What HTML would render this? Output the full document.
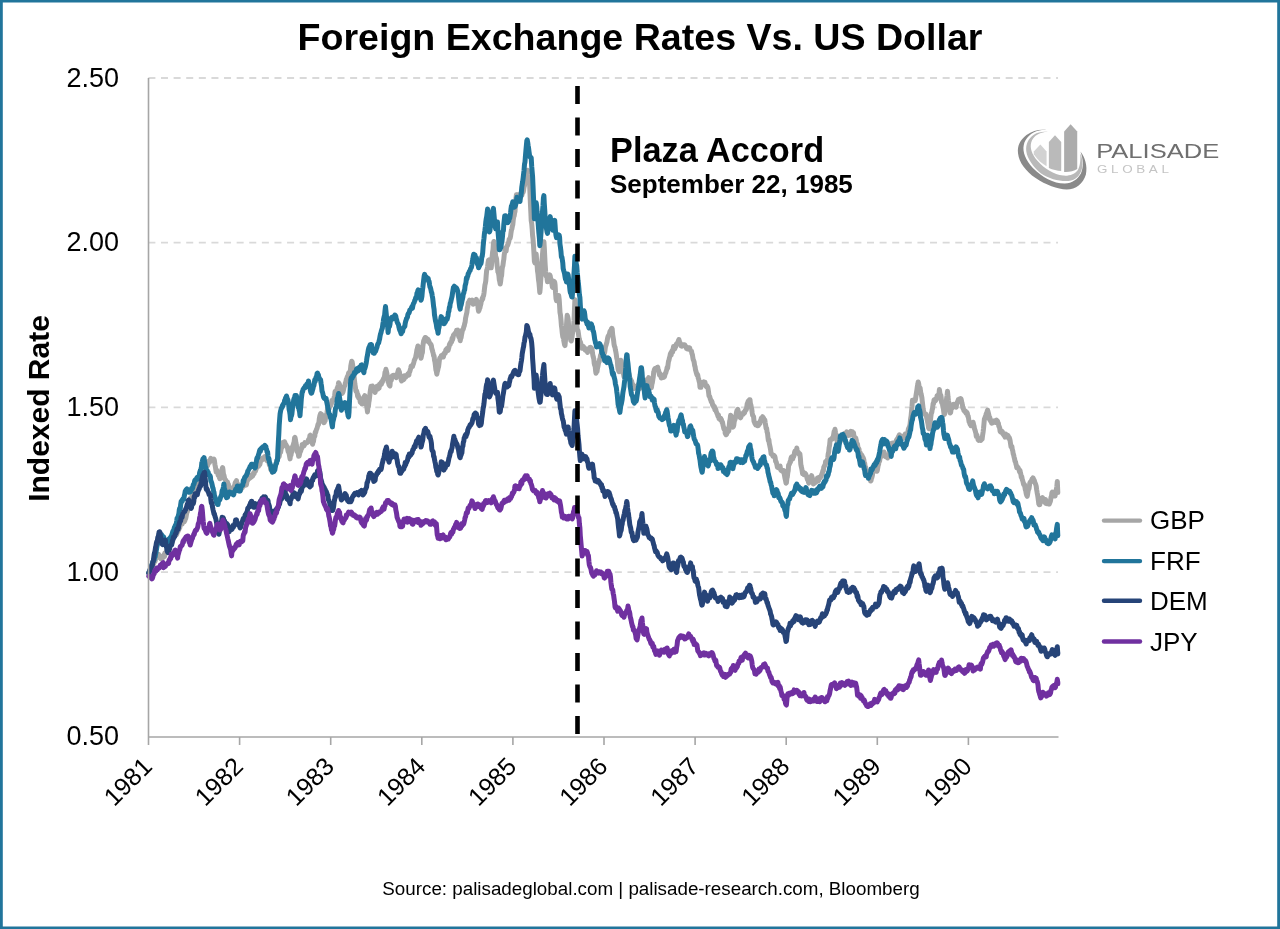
<!DOCTYPE html>
<html lang="en">
<head>
<meta charset="utf-8">
<title>Foreign Exchange Rates Vs. US Dollar</title>
<style>
  html, body { margin: 0; padding: 0; background: #ffffff; }
  body { width: 1280px; height: 929px; overflow: hidden; }
  svg { display: block; will-change: transform; }
  text { font-family: "Liberation Sans", sans-serif; fill: #000; }
  .title { font-size: 37.6px; font-weight: bold; }
  .ylab { font-size: 27px; text-anchor: end; }
  .xlab { font-size: 25px; text-anchor: end; }
  .axt { font-size: 30px; font-weight: bold; text-anchor: middle; }
  .leg { font-size: 26px; }
  .ann1 { font-size: 34.3px; font-weight: bold; }
  .ann2 { font-size: 26px; font-weight: bold; }
  .src { font-size: 18.8px; text-anchor: middle; }
  .grid line { stroke: #d9d9d9; stroke-width: 1.8; stroke-dasharray: 7 5.607; }
  .axis { stroke: #a6a6a6; stroke-width: 1.6; fill: none; }
  .ser { fill: none; stroke-width: 5; stroke-linejoin: round; stroke-linecap: round; }
</style>
</head>
<body>
<svg width="1280" height="929" viewBox="0 0 1280 929">
  <!-- frame -->
  <rect x="0" y="0" width="1280" height="929" fill="#ffffff"/>
  <path fill="#21759b" d="M0 0H1280V929H0ZM2.8 2.4V926.4H1277.2V2.4Z" fill-rule="evenodd"/>

  <!-- title -->
  <text class="title" x="640" y="50" text-anchor="middle">Foreign Exchange Rates Vs. US Dollar</text>

  <!-- gridlines -->
  <g class="grid">
    <line x1="148.4" y1="78" x2="1058" y2="78"/>
    <line x1="148.4" y1="242.7" x2="1058" y2="242.7"/>
    <line x1="148.4" y1="407.4" x2="1058" y2="407.4"/>
    <line x1="148.4" y1="572.1" x2="1058" y2="572.1"/>
  </g>

  <!-- SERIES -->
  <g class="ser">
    <path id="gbp" stroke="#a6a6a6" d="M148.8 573L149.2 572.4L149.7 571.5L150.1 570.8L150.6 569.9L151 569.2L151.4 568.2L151.9 567.7L152.3 567.5L152.8 565.7L153.2 564L153.7 563.8L154.2 561.3L154.6 561.1L155.1 561.3L155.5 559L155.9 557.8L156.4 557.6L156.8 557.7L157.3 555.9L157.8 556.7L158.2 555.7L158.7 554.4L159.1 556.1L159.6 556.3L160 557.2L160.4 557.1L160.9 558.8L161.3 558.7L161.8 557.1L162.2 558.4L162.7 557.8L163.2 556.8L163.6 556.3L164.1 554.5L164.5 556.5L164.9 552.9L165.4 553.7L165.8 553.1L166.3 552.4L166.8 550.1L167.2 551.2L167.7 550.2L168.1 548.9L168.6 548.9L169 549.3L169.4 548L169.9 545.9L170.3 545.6L170.8 544.7L171.2 541.7L171.7 543.4L172.2 541.5L172.6 541.6L173.1 538.9L173.5 536.9L173.9 537.3L174.4 535.3L174.8 534.9L175.3 532.9L175.8 533.1L176.2 533.4L176.7 534.4L177.1 533L177.6 531.2L178 531.5L178.4 530.3L178.9 529.3L179.3 526.9L179.8 527.8L180.2 525.2L180.7 524.4L181.2 522.9L181.6 520.7L182.1 524.1L182.5 520.5L182.9 519.7L183.4 522.2L183.8 521.4L184.3 521.7L184.8 520.7L185.2 519.3L185.7 518.5L186.1 516.7L186.6 513.5L187 512.2L187.4 511.7L187.9 508.8L188.3 505.3L188.8 504.6L189.2 505.2L189.7 502.5L190.2 499.8L190.6 497.7L191.1 497.7L191.5 497.1L191.9 496.6L192.4 496.9L192.8 494L193.3 492.7L193.8 489.8L194.2 488L194.7 487.2L195.1 485.9L195.6 484.9L196 482.9L196.4 482.9L196.9 482.9L197.3 481.7L197.8 482.1L198.2 477.1L198.7 478.1L199.2 476.2L199.6 474.7L200.1 474.3L200.5 473.5L200.9 472.7L201.4 473.1L201.8 472.4L202.3 469.7L202.8 467.3L203.2 466.4L203.7 467L204.1 468.9L204.6 466.5L205 468.2L205.4 467.1L205.9 465.2L206.3 466.2L206.8 466.2L207.2 463.5L207.7 465.5L208.2 461.4L208.6 462L209.1 461L209.5 462.6L209.9 460.3L210.4 459.5L210.8 458.3L211.3 460.6L211.8 459.9L212.2 460.3L212.7 460.6L213.1 460.7L213.6 460.2L214 459.1L214.4 460.5L214.9 464.4L215.4 466.9L215.8 469.7L216.2 472.1L216.7 470L217.2 472.1L217.6 471.4L218.1 475.1L218.5 472.5L218.9 474.8L219.4 477.5L219.9 478.7L220.3 478.7L220.8 476.9L221.2 472.9L221.7 471.4L222.1 469L222.6 467.5L223 469.8L223.4 473.8L223.9 475.1L224.4 477.4L224.8 479.3L225.2 479.5L225.7 479.8L226.2 481.6L226.6 481.7L227.1 484.1L227.5 482L227.9 484.7L228.4 484.4L228.9 487.8L229.3 488.6L229.8 490L230.2 491.1L230.7 490.8L231.1 491.8L231.6 491.2L232 489.7L232.4 490.4L232.9 488.6L233.4 487.2L233.8 486.6L234.2 485.9L234.7 485.4L235.2 482.6L235.6 482.7L236.1 481.7L236.5 480.5L236.9 483.8L237.4 483.5L237.9 484.3L238.3 486.5L238.8 486.8L239.2 487.6L239.7 489.8L240.1 488.8L240.6 489.5L241 489.5L241.4 487.1L241.9 487.9L242.4 487.8L242.8 486.1L243.2 484L243.7 485.9L244.2 485.3L244.6 485.5L245.1 485.3L245.5 484L245.9 484L246.4 484.8L246.9 482L247.3 479.4L247.8 480.1L248.2 477.7L248.7 479.1L249.1 477.2L249.6 477.3L250 477.9L250.4 477.7L250.9 475L251.4 477.1L251.8 475L252.2 475.6L252.7 476L253.2 474L253.6 472.8L254.1 473.8L254.5 471.8L254.9 471.3L255.4 471.1L255.9 469.7L256.3 468.5L256.8 467.4L257.2 466.8L257.6 466.2L258.1 466L258.6 466.1L259 464.5L259.4 463.9L259.9 464.4L260.4 461.8L260.8 460.3L261.2 459.7L261.7 459.3L262.1 459.9L262.6 458.1L263.1 459.2L263.5 457.9L263.9 458.9L264.4 458.7L264.9 456.6L265.3 457L265.8 456.7L266.2 458.3L266.6 459.8L267.1 460.7L267.6 460.1L268 460.4L268.4 461.8L268.9 462L269.4 465.1L269.8 464.7L270.2 466L270.7 469.4L271.1 469.8L271.6 469.9L272.1 472L272.5 471.1L272.9 467.1L273.4 467.4L273.9 469L274.3 467.8L274.8 466.2L275.2 466.2L275.6 465.1L276.1 463.9L276.6 461.4L277 460.2L277.5 459.8L277.9 458.1L278.4 457.6L278.8 456L279.2 456.5L279.7 453.2L280.1 452.4L280.6 452.2L281.1 449.4L281.5 447.5L282 447.2L282.4 446.3L282.9 442.6L283.3 444.4L283.8 444.8L284.2 444.9L284.6 441.8L285.1 443.2L285.6 444L286 444.9L286.5 445.8L286.9 447.1L287.4 446.9L287.8 449.7L288.2 451.8L288.7 452.2L289.1 453.6L289.6 456.4L290.1 458.9L290.5 454.4L291 455.2L291.4 452.3L291.9 451.9L292.3 447.2L292.8 446.2L293.2 445.1L293.6 443.6L294.1 442.1L294.6 437.9L295 437.4L295.5 440L295.9 442.9L296.4 445.1L296.8 448.3L297.2 451.8L297.7 450.8L298.1 452.7L298.6 456.2L299.1 456.1L299.5 454.5L300 452.1L300.4 451.7L300.9 450.4L301.3 447.9L301.8 448.2L302.2 444.6L302.6 444.4L303.1 445.3L303.6 444.3L304 445.8L304.5 444.5L304.9 442.6L305.4 443.7L305.8 443.1L306.2 442.9L306.7 442.7L307.1 442.8L307.6 441.7L308.1 440.9L308.5 439.7L309 439.1L309.4 439.5L309.9 435.6L310.3 435.2L310.8 437.5L311.2 439.6L311.6 442.1L312.1 442.7L312.6 444.3L313 442.2L313.5 441.4L313.9 437.9L314.4 436.7L314.8 436.3L315.2 432.3L315.7 432.4L316.1 430.6L316.6 429.2L317.1 428.1L317.5 426.5L318 424.4L318.4 424.8L318.9 422.6L319.3 418.8L319.8 416.1L320.2 414.8L320.6 413.7L321.1 415.5L321.6 414.3L322 416.8L322.5 417.5L322.9 418.9L323.4 421.5L323.8 422.7L324.2 422.4L324.7 420.8L325.1 421L325.6 417.4L326.1 416.7L326.5 414.2L327 412.7L327.4 409.9L327.9 407.9L328.3 409.3L328.8 408.1L329.2 408.4L329.6 406.9L330.1 405.6L330.6 405.8L331 404.6L331.5 403.1L331.9 400.4L332.4 401.2L332.8 400.7L333.2 399.8L333.7 398.7L334.1 397.6L334.6 395.9L335.1 391.4L335.5 393.9L336 393.1L336.4 390.2L336.9 389.7L337.3 387.8L337.8 387.2L338.2 385.1L338.6 382.7L339.1 383.8L339.6 384.7L340 386.5L340.5 387.7L340.9 389.6L341.4 391.9L341.8 392.2L342.2 393.3L342.7 392.5L343.1 391.5L343.6 389.4L344.1 386.7L344.5 386.2L345 385.1L345.4 382.8L345.9 381.8L346.3 379.2L346.8 379.2L347.2 376.9L347.6 376.2L348.1 375.5L348.6 373L349 374.5L349.5 373.7L349.9 371.4L350.4 370.3L350.8 366L351.2 363.7L351.7 361.2L352.1 361.7L352.6 364.7L353.1 368.8L353.5 373.9L354 375.8L354.4 379.5L354.9 384.2L355.3 386.4L355.8 390.6L356.2 391.6L356.6 390.8L357.1 392.7L357.6 396.2L358 394.7L358.5 397.8L358.9 396.8L359.4 398.6L359.8 398.5L360.2 401.9L360.7 401.7L361.1 403L361.6 400.9L362.1 404L362.5 402.6L363 402.4L363.4 400.3L363.9 398L364.3 396.5L364.8 395.6L365.2 397L365.6 398L366.1 400.5L366.6 405.7L367 408.1L367.5 411.9L367.9 407L368.4 406.7L368.8 402.4L369.2 400.4L369.7 396.1L370.1 392.4L370.6 389L371.1 386.2L371.5 386.4L372 387.6L372.4 386L372.9 387.6L373.3 388.8L373.8 388.2L374.2 390.3L374.6 390.9L375.1 392.4L375.6 388.5L376 387.8L376.5 387.5L376.9 386.4L377.4 387.6L377.8 389.1L378.2 387.4L378.7 385.6L379.1 388.1L379.6 384.3L380.1 385.3L380.5 384.3L381 382.6L381.4 384.2L381.9 381.6L382.3 382.3L382.8 380.6L383.2 379.4L383.6 378.4L384.1 378.1L384.6 375.7L385 372.3L385.5 371.7L385.9 369.3L386.4 371.2L386.8 373L387.2 375.5L387.7 376.8L388.1 381.7L388.6 382.9L389.1 384.8L389.5 385.4L390 385.9L390.4 380.4L390.9 379.5L391.3 380.3L391.8 376.9L392.2 375.9L392.6 376.2L393.1 375.5L393.6 375.2L394 375.4L394.5 376.2L394.9 375.2L395.4 375.2L395.8 376.9L396.2 377.7L396.7 375.7L397.1 375.3L397.6 373L398.1 371.2L398.5 369.7L399 371.7L399.4 371.8L399.9 375.1L400.3 376.1L400.8 376L401.2 380L401.6 380.9L402.1 379L402.6 379.7L403 380L403.5 379.8L403.9 379.3L404.4 375.8L404.8 377.2L405.2 377.5L405.7 377.3L406.2 376.2L406.6 375.3L407.1 375.1L407.5 375L407.9 373.9L408.4 374.6L408.9 375L409.3 372.2L409.8 371.7L410.2 370.2L410.7 368.3L411.1 366.1L411.6 365.9L412 366L412.4 366.7L412.9 365L413.4 363.9L413.8 362.4L414.2 360.7L414.7 359.7L415.2 358.4L415.6 357.5L416.1 354.7L416.5 352.9L416.9 349.9L417.4 348.3L417.9 346L418.3 346.5L418.8 348.3L419.2 350.2L419.7 353.1L420.1 353.3L420.6 356L421 358.3L421.4 356.5L421.9 353.9L422.4 352.6L422.8 346.7L423.2 343.6L423.7 340.6L424.2 341.3L424.6 338.5L425.1 337.6L425.5 337.6L425.9 337.8L426.4 341.1L426.9 339L427.3 340.3L427.8 339L428.2 340.7L428.7 340.6L429.1 342.4L429.6 342.8L430 343.4L430.4 344.3L430.9 344.3L431.4 345.8L431.8 348.7L432.2 349.6L432.7 351.7L433.2 353.4L433.6 355.7L434.1 355.9L434.5 360L434.9 361.5L435.4 365.3L435.9 370L436.3 371.1L436.8 374.2L437.2 372.1L437.7 370.4L438.1 368.3L438.6 366.8L439 363.4L439.4 359.9L439.9 358L440.4 358.1L440.8 357.7L441.2 355.8L441.7 355.4L442.2 356.5L442.6 355.7L443.1 356.2L443.5 356.8L443.9 353.6L444.4 353.1L444.9 353L445.3 353.1L445.8 350L446.2 351.3L446.7 348.7L447.1 348.4L447.6 349.4L448 350.5L448.4 349.1L448.9 347.3L449.4 344.7L449.8 343.7L450.2 344.5L450.7 342L451.2 341.8L451.6 341.9L452.1 338.2L452.5 339.9L452.9 338.3L453.4 335.2L453.9 334.8L454.3 334.6L454.8 333.4L455.2 333.3L455.7 332.8L456.1 332.6L456.6 330.2L457 332.8L457.4 330.7L457.9 330.2L458.4 334.3L458.8 337L459.2 336.7L459.7 337.3L460.2 340.7L460.6 338.5L461.1 337.7L461.5 335L461.9 333.1L462.4 330L462.9 329.7L463.3 329L463.8 326.7L464.2 326.1L464.7 323.5L465.1 322.2L465.6 318L466 316.2L466.4 314.3L466.9 312.3L467.4 307.8L467.8 306.8L468.2 302.8L468.7 303.8L469.2 301.2L469.6 300.2L470.1 300.7L470.5 300.7L470.9 301.6L471.4 301L471.9 301.5L472.3 300.1L472.8 300.5L473.2 304.2L473.7 302.8L474.1 303.1L474.6 301.8L475 302.3L475.4 300.8L475.9 301.8L476.4 299.4L476.8 301.9L477.2 304.3L477.7 304.5L478.2 309L478.6 311.2L479.1 310.2L479.5 308.5L479.9 308L480.4 305.5L480.9 303.8L481.3 301L481.8 300.5L482.2 298.4L482.7 299L483.1 296.5L483.6 295.7L484 293.1L484.4 289.5L484.9 285.1L485.4 283.1L485.8 280.8L486.2 275.2L486.7 270.1L487.2 269.2L487.6 266.6L488.1 262.4L488.5 260.3L488.9 260L489.4 263.1L489.9 264.7L490.3 266L490.8 267.7L491.2 267.8L491.7 263L492.1 257.1L492.6 251.9L493 249.8L493.4 243.4L493.9 241.5L494.4 244.5L494.8 247.9L495.2 251.9L495.7 256.5L496.2 257.5L496.6 259.1L497.1 265.6L497.5 267.7L497.9 271.9L498.4 272.6L498.9 275.5L499.3 279.8L499.8 281.7L500.2 284L500.7 281.1L501.1 277.3L501.6 275.8L502 270.3L502.4 267.1L502.9 265.7L503.4 261.6L503.8 259.4L504.2 255L504.7 252.1L505.2 248.2L505.6 247.9L506.1 251.1L506.5 247.6L506.9 246.2L507.4 245.6L507.9 244.6L508.3 243.1L508.8 241.6L509.2 239.2L509.7 238.7L510.1 238.2L510.6 236L511 232.8L511.4 230.2L511.9 228.8L512.4 226L512.8 224.8L513.2 220.4L513.7 217L514.2 215.8L514.6 212.9L515 211.6L515.5 203.5L516 198L516.4 194.8L516.9 195.5L517.3 194.8L517.8 194.8L518.2 195.8L518.7 198.3L519.1 199.1L519.5 197.3L520 198.2L520.5 193.7L520.9 195.2L521.4 195.2L521.8 195.5L522.2 193.9L522.7 191.8L523.2 192.1L523.6 190.4L524 187.3L524.5 185.6L525 182.6L525.4 181.4L525.9 178.5L526.3 177L526.8 175.4L527.2 173.6L527.7 170.2L528.1 174.8L528.5 176.5L529 179.3L529.5 181.7L529.9 191.1L530.4 203.3L530.8 211.5L531.2 220.5L531.7 223.6L532.2 229.3L532.6 235.6L533 238.6L533.5 245.3L534 254.2L534.4 261.4L534.9 262.8L535.3 260.4L535.8 257.2L536.2 254L536.7 261.4L537.1 264.8L537.5 270.9L538 274.2L538.5 279.8L538.9 282.3L539.4 287.8L539.8 292.5L540.2 288.5L540.7 280.6L541.2 274.2L541.6 267.2L542 259.7L542.5 254.2L543 248.8L543.4 243.9L543.9 241.7L544.3 247.5L544.8 257.7L545.2 265.2L545.7 271.9L546.1 275.9L546.5 275.1L547 278.4L547.5 281.8L547.9 279.1L548.4 277.8L548.8 277.9L549.2 275.5L549.7 274.9L550.2 275.9L550.6 278.5L551 279.1L551.5 280.7L552 284.6L552.4 287.2L552.9 287.5L553.3 284.6L553.8 283L554.2 281.4L554.7 282.2L555.1 284.9L555.5 292.2L556 298.6L556.5 300.6L556.9 299.5L557.4 298.8L557.8 298.2L558.2 296.5L558.7 295.5L559.2 299.5L559.6 305.7L560 312.5L560.5 315.2L561 320.3L561.4 325.5L561.9 329.2L562.3 333.2L562.8 336.8L563.2 335.7L563.7 340.2L564.1 342.4L564.5 344.6L565 345.6L565.5 340.1L565.9 334.2L566.4 326.8L566.8 320.4L567.2 315.3L567.7 316.6L568.2 319.5L568.6 325.8L569 330.9L569.5 335.8L570 336.6L570.4 338.4L570.9 340.6L571.3 340.9L571.8 338.3L572.2 335.6L572.7 331.8L573.1 328.4L573.5 326.6L574 320.7L574.5 309.2L574.9 299.7L575.4 303.3L575.8 310.7L576.2 316.8L576.7 323.5L577.2 329.1L577.6 330.6L578 330.6L578.5 334.2L579 337.9L579.4 338.9L579.9 342.9L580.3 341.6L580.8 343.4L581.2 344.9L581.7 346.8L582.1 348.2L582.5 346.4L583 346.8L583.5 346.6L583.9 348.5L584.4 347.8L584.8 349.3L585.2 350.1L585.7 349.9L586.2 349L586.6 349.7L587 351.2L587.5 352.4L588 350L588.4 351L588.9 348.7L589.3 349.1L589.8 347.5L590.2 349.1L590.7 347.3L591.1 348.2L591.5 348.2L592 349.1L592.5 353.2L592.9 355.6L593.4 357.6L593.8 358.9L594.2 363.4L594.7 365.4L595.2 366.3L595.6 370.9L596 373.2L596.5 371.1L597 371.6L597.4 368.7L597.9 366.5L598.3 364.2L598.8 362.1L599.2 361.4L599.7 359L600.1 358.6L600.5 355.4L601 354.2L601.5 352.9L601.9 350.1L602.4 351.4L602.8 351L603.2 351.4L603.7 349.4L604.2 350.7L604.6 352.8L605 350.2L605.5 346.5L606 345.3L606.4 343.8L606.9 342.3L607.3 339.8L607.8 337.2L608.2 336L608.7 335.5L609.1 334.8L609.5 333.6L610 331.2L610.5 331.9L610.9 331.2L611.4 328.8L611.8 328.3L612.2 329L612.7 334.9L613.2 337.9L613.6 340.3L614 344.1L614.5 346.4L615 347.3L615.4 350L615.9 352.1L616.3 354.6L616.8 358.5L617.2 359.6L617.7 366.1L618.1 369.3L618.5 370.3L619 371.7L619.5 369.4L619.9 364.8L620.4 362.3L620.8 360.2L621.2 361.2L621.7 364.5L622.2 365.8L622.6 369.7L623 373.1L623.5 373.8L624 376.8L624.4 376L624.9 373L625.3 372.1L625.8 372.4L626.2 370.4L626.7 369.3L627.1 369.7L627.5 369.4L628 371.3L628.5 374.7L628.9 373.4L629.4 375.7L629.8 377.7L630.2 378.4L630.7 379.4L631.2 381.7L631.6 381L632 383L632.5 383.9L633 384.6L633.4 386.7L633.9 388.6L634.3 387.9L634.8 387.7L635.2 387.9L635.7 386.5L636.1 387.7L636.5 387.6L637 387L637.5 385.7L637.9 385.3L638.4 384.2L638.8 385L639.2 385.5L639.7 387.6L640.2 388.3L640.6 385.2L641 386.5L641.5 386.3L642 386L642.4 386.3L642.9 386.4L643.3 385.7L643.8 383.8L644.2 382.4L644.7 381.8L645.1 382.9L645.5 381.8L646 382L646.5 379.7L646.9 380.4L647.4 380.3L647.8 381.1L648.2 378.7L648.7 377.7L649.2 379.5L649.6 381L650 383.9L650.5 383.2L651 384.7L651.4 387.7L651.9 384.1L652.3 383L652.8 379.6L653.2 377.4L653.7 371.9L654.1 370.8L654.5 369.4L655 368.6L655.5 369.5L655.9 368.6L656.4 368.2L656.8 368.1L657.2 367.4L657.7 367.2L658.2 370.1L658.6 370.5L659 372.6L659.5 375.1L660 373.7L660.4 375L660.9 376.2L661.3 378L661.8 376.7L662.2 376.9L662.6 375.3L663.1 375.2L663.6 377.4L664 376.7L664.5 376.6L664.9 374.9L665.4 373.1L665.8 373L666.2 371.1L666.7 369.8L667.1 367.4L667.6 368.3L668.1 364.3L668.5 361.2L669 360.1L669.4 358.1L669.9 356.5L670.3 354.1L670.8 352.8L671.2 354.9L671.6 351.6L672.1 350.7L672.6 352.1L673 349.5L673.5 346.6L673.9 347.8L674.4 348.3L674.8 348.7L675.2 347L675.7 346.8L676.1 344.7L676.6 343.8L677.1 344.3L677.5 343.6L678 342.6L678.4 340.6L678.9 339.6L679.3 340.9L679.8 343.2L680.2 343.1L680.6 343.8L681.1 345.9L681.6 346.2L682 346.2L682.5 345.7L682.9 345.3L683.4 344.8L683.8 345.1L684.2 344.7L684.7 344.7L685.1 345.8L685.6 346.4L686.1 346.6L686.5 348.5L687 347.4L687.4 349L687.9 347.8L688.3 348.2L688.8 347.8L689.2 349.1L689.6 347.9L690.1 349.4L690.6 350.3L691 350.9L691.5 351.1L691.9 353.5L692.4 354.7L692.8 357.3L693.2 359.7L693.7 360.7L694.1 361.9L694.6 365.4L695.1 366.9L695.5 369.8L696 371.5L696.4 373L696.9 374.7L697.3 374.2L697.8 375.5L698.2 378L698.6 378.9L699.1 381.2L699.6 382.9L700 387.3L700.5 387.2L700.9 387.3L701.4 384.2L701.8 383.2L702.2 382.6L702.7 383.4L703.1 382.3L703.6 381.9L704.1 383.1L704.5 382.3L705 382.2L705.4 385L705.9 385.9L706.3 386.5L706.8 385.6L707.2 386.8L707.6 386.8L708.1 388.8L708.6 392.5L709 396L709.5 396.3L709.9 397.3L710.4 399.3L710.8 399.8L711.2 401.6L711.7 401.1L712.1 402.1L712.6 405.1L713.1 404.9L713.5 406.7L714 407.3L714.4 406.5L714.9 409.9L715.3 409.8L715.8 409.5L716.2 411.5L716.6 412.4L717.1 413.7L717.6 414.8L718 416.2L718.5 415.1L718.9 418.4L719.4 418.3L719.8 418.9L720.2 419.5L720.7 418.3L721.1 419.2L721.6 420.2L722.1 422.5L722.5 422.1L723 425.2L723.4 426.7L723.9 429L724.3 429L724.8 428.6L725.2 433.2L725.6 434L726.1 434.7L726.6 434.2L727 432.8L727.5 432.3L727.9 430.7L728.4 430L728.8 431.1L729.2 426L729.7 421.1L730.1 419.5L730.6 415.2L731.1 416.2L731.5 418.3L732 422.9L732.4 425.4L732.9 427.1L733.3 426.7L733.8 425.2L734.2 421.8L734.6 420.2L735.1 419.1L735.6 417.2L736 415.2L736.5 412.4L736.9 410.7L737.4 410.3L737.8 409.3L738.2 411.3L738.7 412.9L739.1 415L739.6 415.4L740.1 417.5L740.5 417.8L741 417L741.4 414.1L741.9 414.2L742.3 413.8L742.8 413.9L743.2 414.2L743.6 412.4L744.1 412.2L744.6 412.8L745 410.7L745.5 410.7L745.9 409.3L746.4 409.4L746.8 406.5L747.2 403.8L747.7 402.9L748.1 401.2L748.6 401.4L749.1 400.3L749.5 399.8L750 399.7L750.4 403.6L750.9 405L751.3 407.1L751.8 409.5L752.2 412.9L752.6 415.2L753.1 415.9L753.6 416.8L754 421.3L754.5 422.2L754.9 423.6L755.4 422.8L755.8 425L756.2 424.5L756.7 424L757.1 424.8L757.6 425.7L758.1 424.7L758.5 425.3L759 422.9L759.4 423L759.9 423.5L760.3 420.9L760.8 420.7L761.2 418.4L761.6 418.5L762.1 417.8L762.6 416.7L763 417.9L763.5 418L763.9 419L764.4 421.3L764.8 419.8L765.2 422.6L765.7 425.6L766.1 428.5L766.6 428.2L767.1 432.1L767.5 433.1L768 437.6L768.4 440.8L768.9 439.7L769.3 443.4L769.8 445.8L770.2 447.6L770.6 449.8L771.1 453.9L771.6 454.2L772 454.7L772.5 454.5L772.9 456L773.4 455.6L773.8 455.3L774.2 456.9L774.7 456.2L775.1 457.5L775.6 461.3L776.1 461.5L776.5 463.1L777 465.3L777.4 467.2L777.9 467.6L778.3 467L778.8 468L779.2 466.7L779.6 466.2L780.1 466.1L780.6 469.3L781 470.5L781.5 470.6L781.9 470.3L782.4 471.3L782.8 470.7L783.2 471.6L783.7 470.5L784.1 473.2L784.6 476L785.1 478.7L785.5 480.3L786 483.2L786.4 482.7L786.9 478.2L787.3 476.9L787.8 472.7L788.2 470.8L788.6 465.1L789.1 464.8L789.6 463.7L790 461.9L790.5 462L790.9 458.5L791.4 457.1L791.8 458.4L792.2 456.8L792.7 459.1L793.1 456.5L793.6 456.7L794.1 455.3L794.5 452.6L795 451L795.4 452L795.9 452.8L796.3 452L796.8 448.1L797.2 450.3L797.6 451.9L798.1 452.6L798.6 452.6L799 454.3L799.5 454.3L799.9 454L800.4 458.5L800.8 464.2L801.2 466.4L801.7 468.3L802.1 470.6L802.6 473.8L803.1 472L803.5 472.5L804 474.6L804.4 474.4L804.9 473L805.3 473.9L805.8 474.2L806.2 475.6L806.6 476.1L807.1 478.5L807.6 479.9L808 479.7L808.5 482.4L808.9 483L809.4 481L809.8 480.7L810.2 480.5L810.7 478.9L811.1 476.7L811.6 475.7L812.1 477.3L812.5 478.5L813 481L813.4 483.9L813.9 483.6L814.3 483.3L814.8 482.1L815.2 482.3L815.6 482.5L816.1 481.1L816.6 481.5L817 481.1L817.5 477.9L817.9 479.7L818.4 481L818.8 479.2L819.2 477.2L819.7 477.4L820.1 478L820.6 477L821.1 476.8L821.5 475L822 473.8L822.4 472.8L822.9 470.6L823.3 471.2L823.8 467.1L824.2 466.5L824.6 465.5L825.1 465L825.6 461.6L826 461.3L826.5 461.6L826.9 462.1L827.4 459.9L827.8 457.6L828.2 453.8L828.7 452L829.1 447.8L829.6 445.2L830.1 439.7L830.5 439.5L831 439.5L831.4 439.4L831.9 439.3L832.3 437.9L832.8 438.8L833.2 437.6L833.6 435L834.1 431.5L834.6 430.9L835 429.3L835.5 432.4L835.9 434.4L836.4 434.8L836.8 437.6L837.2 441.6L837.7 442.3L838.1 442.5L838.6 440.6L839.1 441L839.5 442.5L840 440.6L840.4 438.7L840.9 436.8L841.3 437.3L841.8 439L842.2 437.5L842.6 439.9L843.1 437.7L843.6 436.8L844 436.3L844.5 435L844.9 433.3L845.4 433.5L845.8 433.2L846.2 432.6L846.7 431.9L847.1 433.6L847.6 433.1L848.1 435.5L848.5 433.4L849 435.1L849.4 434.7L849.9 435.1L850.3 432.7L850.8 431.4L851.2 432.4L851.6 432.2L852.1 432.1L852.6 431.9L853 432.8L853.5 432.7L853.9 435.8L854.4 437.2L854.8 438.2L855.2 439.4L855.7 437.9L856.1 439.6L856.6 442.1L857.1 444.2L857.5 444L858 448.3L858.4 448.7L858.9 448.7L859.3 451L859.8 453.2L860.2 452.7L860.6 455.2L861.1 455L861.6 454.8L862 455.7L862.5 456.6L862.9 457.3L863.4 458.4L863.8 459.5L864.2 462.7L864.7 463.2L865.1 466.8L865.6 467L866.1 469.9L866.5 470.3L867 471.2L867.4 473.9L867.9 476.3L868.3 476.4L868.8 475.9L869.2 476L869.6 477.3L870.1 478.3L870.6 481L871 480.8L871.5 478.1L871.9 477.5L872.4 475.5L872.8 471.9L873.2 470.5L873.7 470.9L874.1 470.6L874.6 469.7L875.1 468.6L875.5 469.3L876 469L876.4 469.3L876.9 471.3L877.3 470.5L877.8 467.5L878.2 465.3L878.6 464.3L879.1 461.3L879.6 461.3L880 457.9L880.5 457.8L880.9 456.1L881.4 455.5L881.8 456L882.2 453.5L882.7 454L883.1 453.5L883.6 454.8L884.1 452L884.5 454.5L885 454.4L885.4 456.6L885.9 455.8L886.3 456L886.8 456.2L887.2 456.7L887.6 458L888.1 456.4L888.6 456.3L889 455.2L889.5 453.1L889.9 450.3L890.4 448.1L890.8 446.5L891.2 445.2L891.7 443.2L892.1 444.7L892.6 443.4L893.1 444.7L893.5 443.8L894 445.2L894.4 442.8L894.9 443.8L895.3 442.7L895.8 442.7L896.2 441.2L896.6 439.8L897.1 439.8L897.6 438.3L898 438.5L898.5 436.5L898.9 436L899.4 434.8L899.8 435.5L900.2 436.5L900.7 439L901.1 438.3L901.6 436.1L902.1 438.4L902.5 438.6L903 437.5L903.4 438L903.9 436.1L904.3 435.6L904.8 435L905.2 434.2L905.6 435.2L906.1 435.8L906.6 435.8L907 434.4L907.5 433.2L907.9 431.9L908.4 428.8L908.8 428.5L909.2 427.1L909.7 426.1L910.1 424L910.6 418.9L911.1 416L911.5 411.4L912 406.5L912.4 400.3L912.9 401.4L913.3 400.8L913.8 400.3L914.2 399.8L914.6 400L915.1 400.7L915.6 399L916 395.4L916.5 392.3L916.9 389.8L917.4 386.2L917.8 384.4L918.2 382L918.7 383.7L919.1 386.9L919.6 387.5L920.1 387.9L920.5 391.3L921 393.8L921.4 395.2L921.9 397.8L922.3 401.6L922.8 405.9L923.2 409.2L923.6 411.2L924.1 412.9L924.6 413.9L925 414.5L925.5 414.9L925.9 414.2L926.4 415.9L926.8 418.2L927.2 420.1L927.7 422.5L928.1 424.3L928.6 427.8L929.1 428.7L929.5 427.7L930 423.7L930.4 420.6L930.9 416.2L931.3 413.2L931.8 412.3L932.2 409.4L932.6 408.5L933.1 403.4L933.6 403.6L934 400.1L934.5 399.6L934.9 401.1L935.4 400.8L935.8 399L936.2 399.9L936.7 398.6L937.1 395.7L937.6 396L938.1 394.9L938.5 394.9L939 393.8L939.4 389.5L939.9 393.4L940.3 395.2L940.8 395.2L941.2 397.8L941.6 402.5L942.1 401.7L942.6 405L943 407.2L943.5 409.6L943.9 413L944.4 414.3L944.8 413.5L945.2 409.2L945.7 405.9L946.1 402.8L946.6 398.5L947.1 395.3L947.5 391.2L948 396.9L948.4 400.3L948.9 403.4L949.3 408.7L949.8 409.9L950.2 413L950.6 412.6L951.1 409.3L951.6 407.5L952 408.2L952.5 406.3L952.9 404.7L953.4 404.3L953.8 404.6L954.2 405.7L954.7 405.8L955.1 406.2L955.6 405L956.1 407.3L956.5 405L957 402.6L957.4 402L957.9 401.2L958.3 399.5L958.8 399.5L959.2 399.1L959.6 400.8L960.1 398.9L960.6 399.6L961 398.7L961.5 400.9L961.9 403L962.4 404.9L962.8 408L963.2 407.3L963.7 410.2L964.1 410.5L964.6 411.3L965.1 410.9L965.5 411.1L966 413.2L966.4 413.1L966.9 412.5L967.3 413.2L967.8 416.3L968.2 416.1L968.6 418.6L969.1 421.9L969.6 422.3L970 424.2L970.5 424L970.9 425.7L971.4 423.5L971.8 424.4L972.2 424.8L972.7 423.7L973.1 422.2L973.6 424.7L974.1 426.3L974.5 428.9L975 430L975.4 431.5L975.9 433.3L976.3 436.3L976.8 434.9L977.2 436.6L977.6 437.4L978.1 439.8L978.6 440.3L979 439.4L979.5 438.5L979.9 439.4L980.4 439.4L980.8 440.4L981.2 439.6L981.7 439L982.1 439.2L982.6 435.3L983.1 432.1L983.5 428.8L984 423.5L984.4 418.9L984.9 418.6L985.3 416.5L985.8 416.4L986.2 413.7L986.6 415.7L987.1 411.6L987.6 410.2L988 411.5L988.5 413.5L988.9 415.3L989.4 419.2L989.8 417.4L990.2 420.3L990.7 421.2L991.1 420.2L991.6 423.2L992.1 423L992.5 422.9L993 422.8L993.4 421L993.9 421.8L994.3 421.8L994.8 422.3L995.2 422.4L995.6 420.5L996.1 421.6L996.6 420.1L997 421.7L997.5 421L997.9 422.7L998.4 423.3L998.8 426.1L999.2 426.6L999.7 428.1L1000.1 431.2L1000.6 432.1L1001.1 432.2L1001.5 430.8L1002 432.4L1002.4 431.7L1002.9 433.9L1003.3 434.2L1003.8 435.3L1004.2 434.5L1004.6 434.8L1005.1 437.1L1005.6 434L1006 435.4L1006.5 435.1L1006.9 435.3L1007.4 435.3L1007.8 435.3L1008.2 436.3L1008.7 438.3L1009.1 437.4L1009.6 438.5L1010.1 440.6L1010.5 443.3L1011 446.6L1011.4 447.1L1011.9 446.5L1012.3 449.5L1012.8 451.1L1013.2 453.8L1013.6 454.8L1014.1 457.1L1014.6 459L1015 461.3L1015.5 461.7L1015.9 463.9L1016.4 465.5L1016.8 467.8L1017.2 466.6L1017.7 467.6L1018.1 467.5L1018.6 468.9L1019.1 469.7L1019.5 471.9L1020 470.4L1020.4 472.7L1020.9 474.7L1021.3 477.3L1021.8 476.8L1022.2 479.2L1022.6 480.4L1023.1 482.1L1023.6 484.4L1024 484L1024.5 484.6L1024.9 487.2L1025.3 489.5L1025.8 491.1L1026.2 493.6L1026.7 495.4L1027.2 496.3L1027.6 494.2L1028.1 491L1028.5 489.4L1029 488.7L1029.4 486L1029.8 483.2L1030.3 481.9L1030.8 482L1031.2 480.9L1031.7 480.5L1032.1 478.8L1032.6 478.6L1033 477.9L1033.5 479L1033.9 480.2L1034.3 480.3L1034.8 482.4L1035.2 483.2L1035.7 484.4L1036.2 486.1L1036.6 489.4L1037.1 492.4L1037.5 494.4L1038 497.7L1038.4 500.7L1038.8 503.9L1039.3 504.8L1039.8 504.6L1040.2 501.4L1040.7 501.4L1041.1 499.5L1041.6 499.1L1042 498.2L1042.5 497.6L1042.9 498.9L1043.3 500.8L1043.8 500.3L1044.2 501.5L1044.7 502.2L1045.2 502.7L1045.6 499.6L1046.1 503.4L1046.5 503L1047 502.3L1047.4 503.7L1047.8 502L1048.3 502.1L1048.8 501.9L1049.2 504.1L1049.7 503L1050.1 502.1L1050.6 500.3L1051 497.2L1051.5 496.3L1051.9 492.8L1052.3 492.2L1052.8 493.8L1053.2 493.2L1053.7 494.7L1054.2 495.4L1054.6 496.1L1055.1 496L1055.5 492.9L1056 490.4L1056.4 489.2L1056.8 486.8L1057.3 481.4L1057.8 492.3L1057.8 492.5"/>
    <path id="frf" stroke="#21759b" d="M148.8 573L149.2 571.8L149.7 571.1L150.1 569.7L150.6 568.7L151 567.3L151.4 566L151.9 564.4L152.3 564.2L152.8 561.8L153.2 561.7L153.7 559.6L154.2 559.8L154.6 556.2L155.1 556.8L155.5 554.4L155.9 552.7L156.4 549.8L156.8 547.4L157.3 544.8L157.8 543.8L158.2 540.5L158.7 539L159.1 534.1L159.6 533.4L160 533.9L160.4 534.5L160.9 535.3L161.3 535.3L161.8 535L162.2 536.9L162.7 536.8L163.2 537.7L163.6 536.8L164.1 538.9L164.5 540.6L164.9 540.6L165.4 541.9L165.8 541.6L166.3 541.2L166.8 541.7L167.2 544.5L167.7 543.8L168.1 541.5L168.6 539.4L169 540.1L169.4 540.9L169.9 538.1L170.3 537.4L170.8 537.2L171.2 537.5L171.7 535L172.2 533.9L172.6 532.2L173.1 530.8L173.5 532.1L173.9 529.5L174.4 527.4L174.8 528.3L175.3 525.5L175.8 524.8L176.2 524L176.7 521.1L177.1 518L177.6 517.8L178 517.1L178.4 515.3L178.9 513.5L179.3 509.7L179.8 508L180.2 509.3L180.7 504.3L181.2 501.2L181.6 500.9L182.1 501.4L182.5 499.4L182.9 499L183.4 498.4L183.8 499.3L184.3 495.9L184.8 493.9L185.2 491.4L185.7 490.4L186.1 489.7L186.6 489.4L187 488.9L187.4 489.8L187.9 491.7L188.3 492L188.8 492.2L189.2 492.3L189.7 492.3L190.2 490.6L190.6 491.6L191.1 489.8L191.5 488.3L191.9 488.2L192.4 488.7L192.8 487.2L193.3 484.5L193.8 484.4L194.2 483.2L194.7 480.7L195.1 480L195.6 480.4L196 479.4L196.4 478.8L196.9 477.7L197.3 478.5L197.8 478.8L198.2 477.9L198.7 478.9L199.2 475.6L199.6 472.8L200.1 471.2L200.5 470.2L200.9 469L201.4 467.3L201.8 462.9L202.3 461.6L202.8 459.4L203.2 458.4L203.7 458.4L204.1 457.7L204.6 461.8L205 464L205.4 466.9L205.9 467.6L206.3 471.6L206.8 470.2L207.2 470.5L207.7 473.2L208.2 472.2L208.6 474.9L209.1 475L209.5 475.3L209.9 475.5L210.4 476.7L210.8 481.1L211.3 481.7L211.8 483.3L212.2 485.1L212.7 487.6L213.1 488.3L213.6 491.4L214 492.3L214.4 495.5L214.9 496.8L215.4 498.4L215.8 499.7L216.2 501.6L216.7 503.1L217.2 503.9L217.6 504.6L218.1 504.6L218.5 500.9L218.9 500.5L219.4 500.5L219.9 499.5L220.3 498L220.8 496.7L221.2 495.7L221.7 494.4L222.1 490.8L222.6 490.9L223 489.3L223.4 487.1L223.9 483.9L224.4 488.7L224.8 489.6L225.2 491.4L225.7 495.9L226.2 496.7L226.6 497.7L227.1 496L227.5 497.4L227.9 494.5L228.4 494.2L228.9 493.3L229.3 492.2L229.8 494L230.2 492.1L230.7 493.4L231.1 493L231.6 492.8L232 493.4L232.4 493.7L232.9 494.5L233.4 494.9L233.8 494.2L234.2 491.9L234.7 491.7L235.2 490.9L235.6 489.2L236.1 489.9L236.5 488.4L236.9 488.6L237.4 486L237.9 486.3L238.3 488L238.8 491.1L239.2 489.9L239.7 490.3L240.1 491.1L240.6 489.2L241 486.5L241.4 485.5L241.9 485.8L242.4 485.6L242.8 485L243.2 480.5L243.7 482.1L244.2 479.4L244.6 477.6L245.1 476.8L245.5 476.8L245.9 475.9L246.4 475.3L246.9 473.9L247.3 473.3L247.8 470.9L248.2 470.5L248.7 469.6L249.1 468.7L249.6 468.3L250 466.6L250.4 466.7L250.9 465.8L251.4 464.4L251.8 466.2L252.2 464.3L252.7 466.5L253.2 464.6L253.6 464.9L254.1 465.9L254.5 467.3L254.9 468L255.4 467.4L255.9 463.1L256.3 461.9L256.8 458.7L257.2 457.6L257.6 458.2L258.1 456.2L258.6 454.3L259 453.2L259.4 451.3L259.9 449.8L260.4 451.3L260.8 448.9L261.2 449L261.7 447.9L262.1 448.1L262.6 447.9L263.1 446.7L263.5 446.6L263.9 447.6L264.4 446.9L264.9 445.4L265.3 446L265.8 446.4L266.2 448.1L266.6 449.5L267.1 452.3L267.6 452L268 456L268.4 458.9L268.9 458.4L269.4 462.1L269.8 463.2L270.2 464.3L270.7 465.6L271.1 467.2L271.6 470.3L272.1 470.7L272.5 472.1L272.9 471.8L273.4 469.8L273.9 471.6L274.3 469.2L274.8 470.1L275.2 467.6L275.6 465.2L276.1 463.5L276.6 463.2L277 460L277.5 460.4L277.9 450.6L278.4 440.9L278.8 434.3L279.2 425.4L279.7 418.6L280.1 413.8L280.6 411L281.1 409L281.5 407.7L282 407.7L282.4 405.5L282.9 406L283.3 403.9L283.8 403.5L284.2 403.2L284.6 400.3L285.1 400.1L285.6 397.8L286 397.7L286.5 396L286.9 397.5L287.4 399.4L287.8 399.4L288.2 401.5L288.7 404.7L289.1 409.3L289.6 411.4L290.1 415L290.5 419.7L291 416.5L291.4 415.9L291.9 413.8L292.3 410L292.8 404.7L293.2 404.4L293.6 400.4L294.1 398.3L294.6 398.1L295 395.5L295.5 395.6L295.9 395.9L296.4 395.7L296.8 398L297.2 398.7L297.7 404.2L298.1 407.2L298.6 406.8L299.1 409.8L299.5 411.3L300 415.7L300.4 410.1L300.9 405.3L301.3 399L301.8 394.9L302.2 391.7L302.6 391.8L303.1 389.4L303.6 388.8L304 387.9L304.5 388.1L304.9 388.1L305.4 385.7L305.8 386.2L306.2 386.7L306.7 384.3L307.1 383.8L307.6 383.6L308.1 383.3L308.5 380.9L309 383.6L309.4 385.7L309.9 387.3L310.3 389.9L310.8 392.1L311.2 393.2L311.6 393.1L312.1 391.6L312.6 389.9L313 388.5L313.5 385.9L313.9 385.6L314.4 382.4L314.8 379.7L315.2 381.7L315.7 378.7L316.1 377L316.6 376.4L317.1 373.5L317.5 373.1L318 375L318.4 374.8L318.9 377.7L319.3 377.7L319.8 379.2L320.2 379.4L320.6 379.9L321.1 383.7L321.6 386.7L322 391.1L322.5 392.2L322.9 393.9L323.4 396.4L323.8 397.6L324.2 398.3L324.7 398L325.1 398.2L325.6 399.1L326.1 398.3L326.5 401L327 403.2L327.4 405.2L327.9 408.2L328.3 409.4L328.8 412.7L329.2 413.6L329.6 414.2L330.1 416L330.6 418.2L331 418.7L331.5 422L331.9 424.7L332.4 426.9L332.8 422.5L333.2 420.6L333.7 418.6L334.1 416.3L334.6 416L335.1 411.7L335.5 408.3L336 408.1L336.4 406.2L336.9 403.1L337.3 398.5L337.8 397.6L338.2 395.2L338.6 393.5L339.1 394.7L339.6 397.8L340 400.4L340.5 401.7L340.9 408L341.4 410.2L341.8 408.9L342.2 408.1L342.7 407.7L343.1 407.4L343.6 407.8L344.1 405.8L344.5 404.4L345 402.6L345.4 403.9L345.9 405.4L346.3 407.5L346.8 407.8L347.2 411.4L347.6 412.6L348.1 416L348.6 416.8L349 412.2L349.5 401.1L349.9 394L350.4 384.8L350.8 379.5L351.2 377.9L351.7 378.3L352.1 378.3L352.6 375.7L353.1 376.5L353.5 375.3L354 374.8L354.4 372.4L354.9 373.4L355.3 372.9L355.8 372.5L356.2 370.4L356.6 369L357.1 368.5L357.6 368.7L358 371.1L358.5 369.9L358.9 370.4L359.4 367.2L359.8 368.5L360.2 368.2L360.7 366.5L361.1 365.1L361.6 364.8L362.1 368.8L362.5 369.2L363 370.2L363.4 371.4L363.9 372.7L364.3 369L364.8 368.6L365.2 367.2L365.6 365.8L366.1 363.5L366.6 360.4L367 357.4L367.5 355.1L367.9 352.4L368.4 349.5L368.8 347.9L369.2 346.9L369.7 346.2L370.1 344.8L370.6 346L371.1 344.5L371.5 344.6L372 348.5L372.4 350.7L372.9 352L373.3 352.9L373.8 353.2L374.2 353.3L374.6 352.5L375.1 350.7L375.6 351.2L376 349.9L376.5 348.2L376.9 347.5L377.4 345.2L377.8 343.9L378.2 343.5L378.7 342.9L379.1 340.8L379.6 339L380.1 335.9L380.5 334L381 332.8L381.4 330.7L381.9 329.2L382.3 328.4L382.8 324.5L383.2 322.1L383.6 319L384.1 316.8L384.6 315.2L385 310.8L385.5 306.6L385.9 310.5L386.4 315.5L386.8 320.4L387.2 324L387.7 327.3L388.1 332.6L388.6 327.5L389.1 327L389.5 326.5L390 324.2L390.4 320.4L390.9 320.3L391.3 317.9L391.8 317.3L392.2 317.3L392.6 318.9L393.1 318.9L393.6 318.2L394 316.5L394.5 315.8L394.9 315L395.4 315.5L395.8 316.2L396.2 318.8L396.7 320L397.1 321.9L397.6 323.2L398.1 323.7L398.5 324.7L399 327.5L399.4 329.1L399.9 330.5L400.3 331.1L400.8 332.7L401.2 333.7L401.6 332.6L402.1 331.9L402.6 331.6L403 329.1L403.5 327.8L403.9 327.7L404.4 326.7L404.8 326.3L405.2 323.3L405.7 321.2L406.2 319.8L406.6 318.2L407.1 318L407.5 316.9L407.9 314.4L408.4 313.5L408.9 313.1L409.3 312.3L409.8 309.9L410.2 309.7L410.7 309.3L411.1 308.9L411.6 307.3L412 306.5L412.4 308.3L412.9 305.5L413.4 303.7L413.8 303L414.2 302.5L414.7 300.5L415.2 300.1L415.6 297.9L416.1 298.3L416.5 297.7L416.9 293.4L417.4 292.6L417.9 290.5L418.3 289.8L418.8 290.3L419.2 294.2L419.7 293.1L420.1 296.8L420.6 298.2L421 300.3L421.4 299.1L421.9 296.5L422.4 290.7L422.8 288L423.2 284.2L423.7 279.9L424.2 275.9L424.6 274.4L425.1 276.2L425.5 277.1L425.9 276.6L426.4 277.1L426.9 278.6L427.3 279.6L427.8 279.9L428.2 278.5L428.7 281.7L429.1 281.3L429.6 284.9L430 287.1L430.4 287.5L430.9 289.6L431.4 292.3L431.8 292.8L432.2 295.6L432.7 298.2L433.2 302.6L433.6 306.4L434.1 309.5L434.5 315.1L434.9 317.1L435.4 320.5L435.9 322.4L436.3 324.3L436.8 328L437.2 329.1L437.7 330.8L438.1 333.3L438.6 329L439 327.6L439.4 325L439.9 322.9L440.4 321.5L440.8 318.5L441.2 316.6L441.7 317.4L442.2 318L442.6 320.3L443.1 320.1L443.5 321.6L443.9 323.7L444.4 323.6L444.9 322L445.3 322.1L445.8 320.6L446.2 319.1L446.7 318.6L447.1 319.3L447.6 317.4L448 315.9L448.4 312.3L448.9 311.2L449.4 307L449.8 307.2L450.2 303.4L450.7 302.2L451.2 299.9L451.6 298.2L452.1 296.1L452.5 293.2L452.9 290.6L453.4 287.6L453.9 287.1L454.3 286.2L454.8 287.5L455.2 288.6L455.7 287.9L456.1 288.5L456.6 288.2L457 289.3L457.4 290.3L457.9 291.9L458.4 295.7L458.8 299.8L459.2 303.4L459.7 307.2L460.2 309.1L460.6 306.2L461.1 305.1L461.5 303.4L461.9 301.2L462.4 299.1L462.9 297L463.3 293.8L463.8 293.2L464.2 290.8L464.7 289.7L465.1 285.7L465.6 284.1L466 282.3L466.4 278L466.9 279.1L467.4 276.7L467.8 276.1L468.2 273.8L468.7 273.3L469.2 271.8L469.6 270.9L470.1 270.5L470.5 269L470.9 268.1L471.4 267.7L471.9 264.8L472.3 261.8L472.8 259.3L473.2 256.5L473.7 254.3L474.1 255.3L474.6 254.9L475 255L475.4 257.5L475.9 259.1L476.4 257.7L476.8 260.4L477.2 263.3L477.7 264.7L478.2 265.5L478.6 267.8L479.1 266.4L479.5 266.1L479.9 264.4L480.4 261.6L480.9 263.7L481.3 261.7L481.8 256.8L482.2 256.3L482.7 252.6L483.1 246.8L483.6 241.4L484 238.3L484.4 233.8L484.9 230.4L485.4 226.2L485.8 221.9L486.2 219L486.7 216.5L487.2 212.3L487.6 209L488.1 214.2L488.5 219.9L488.9 224.9L489.4 232.1L489.9 230.9L490.3 226.7L490.8 223.3L491.2 219.3L491.7 215.7L492.1 213.1L492.6 211.4L493 209.8L493.4 208.3L493.9 213.5L494.4 219.1L494.8 222.7L495.2 227L495.7 228.8L496.2 227.6L496.6 224.7L497.1 223.9L497.5 222L497.9 230.1L498.4 236.2L498.9 242.6L499.3 249.8L499.8 249.8L500.2 248.5L500.7 247.9L501.1 246.2L501.6 242.3L502 241L502.4 237.3L502.9 231.3L503.4 230.8L503.8 224.6L504.2 220.8L504.7 216L505.2 215.7L505.6 215.8L506.1 217.8L506.5 221.1L506.9 220.4L507.4 220.9L507.9 222.7L508.3 219.4L508.8 221.2L509.2 217.9L509.7 218.2L510.1 215.9L510.6 212.5L511 208.8L511.4 206.1L511.9 205L512.4 203.8L512.8 201.7L513.2 205.2L513.7 206.2L514.2 206.4L514.6 207L515 206.6L515.5 205.4L516 203.3L516.4 200.8L516.9 197.3L517.3 197.5L517.8 197.7L518.2 198.5L518.7 197.9L519.1 201.2L519.5 200.2L520 201.4L520.5 197L520.9 195.7L521.4 191.9L521.8 187L522.2 184.3L522.7 181.5L523.2 177.6L523.6 173.9L524 170.8L524.5 164.3L525 161.9L525.4 156.5L525.9 150.8L526.3 146.1L526.8 140.9L527.2 139.8L527.7 142.4L528.1 145.4L528.5 147.5L529 151.6L529.5 155.2L529.9 156.7L530.4 157.5L530.8 157.3L531.2 157.7L531.7 166.4L532.2 172.1L532.6 176.8L533 185.7L533.5 197.5L534 207.5L534.4 218.8L534.9 217.8L535.3 212.2L535.8 207.2L536.2 202.8L536.7 206.3L537.1 212.1L537.5 216.3L538 221.4L538.5 228L538.9 233.2L539.4 238.2L539.8 245.7L540.2 242.5L540.7 237.1L541.2 230L541.6 224.2L542 219.1L542.5 211.1L543 205.2L543.4 198.1L543.9 195.6L544.3 203.6L544.8 210.8L545.2 218.7L545.7 225.7L546.1 226.1L546.5 228.8L547 231.7L547.5 233.4L547.9 231.1L548.4 227L548.8 224L549.2 220L549.7 218.6L550.2 216.6L550.6 218.7L551 223.7L551.5 224.9L552 226.2L552.4 227.9L552.9 230.1L553.3 225.6L553.8 221.5L554.2 222.1L554.7 220.3L555.1 225.5L555.5 231.3L556 235.5L556.5 237.6L556.9 235.8L557.4 236.7L557.8 237.1L558.2 234.7L558.7 234.9L559.2 235.3L559.6 237.5L560 244.4L560.5 247.7L561 251.9L561.4 257.1L561.9 257L562.3 259.6L562.8 263.2L563.2 268.7L563.7 270.7L564.1 271.8L564.5 273.4L565 276.5L565.5 279.3L565.9 278.7L566.4 282L566.8 280.5L567.2 278.8L567.7 273.9L568.2 275.2L568.6 278.8L569 282.5L569.5 285.6L570 290.6L570.4 292.7L570.9 293L571.3 295.1L571.8 296.9L572.2 297L572.7 290.2L573.1 286.4L573.5 281.9L574 273.5L574.5 265.3L574.9 256.3L575.4 257.9L575.8 258.4L576.2 263.7L576.7 265.8L577.2 272.3L577.6 275.7L578 280.4L578.5 284.1L579 289.9L579.4 294.7L579.9 297.5L580.3 304.9L580.8 312.3L581.2 315L581.7 316.9L582.1 319.1L582.5 314L583 315L583.5 312.1L583.9 310.7L584.4 311.9L584.8 314.7L585.2 318.5L585.7 320.2L586.2 321.5L586.6 321.7L587 324L587.5 321.9L588 324.7L588.4 325.8L588.9 328L589.3 326.8L589.8 327L590.2 325.5L590.7 324.9L591.1 323.9L591.5 324.3L592 326.6L592.5 326.9L592.9 330.7L593.4 331.2L593.8 333.1L594.2 335.7L594.7 339.4L595.2 341.2L595.6 343.4L596 343.6L596.5 347L597 345.1L597.4 344.1L597.9 345.6L598.3 344L598.8 344L599.2 344.7L599.7 343.7L600.1 344.4L600.5 347.5L601 346.1L601.5 349L601.9 352.9L602.4 352.8L602.8 354.7L603.2 356.7L603.7 356.7L604.2 356.4L604.6 360.7L605 361.1L605.5 360.8L606 360.1L606.4 360L606.9 362.6L607.3 360.4L607.8 359.8L608.2 357.9L608.7 358.9L609.1 359L609.5 360.4L610 362.7L610.5 364.3L610.9 365.2L611.4 367.7L611.8 369.3L612.2 372.7L612.7 374.5L613.2 372.8L613.6 374.4L614 376.8L614.5 378.4L615 380.5L615.4 383.9L615.9 385.8L616.3 387.3L616.8 391.8L617.2 394.5L617.7 399.8L618.1 404.4L618.5 405.8L619 407.5L619.5 410.3L619.9 412.4L620.4 408.6L620.8 405.6L621.2 404.5L621.7 402L622.2 399.3L622.6 395.2L623 392L623.5 389.4L624 386.5L624.4 382.7L624.9 379.3L625.3 373.9L625.8 367.4L626.2 359.4L626.7 354.7L627.1 354.9L627.5 360.2L628 363.7L628.5 369.1L628.9 373.2L629.4 377.6L629.8 380.5L630.2 386.5L630.7 389.6L631.2 393L631.6 395L632 395.3L632.5 396.3L633 399.1L633.4 401.5L633.9 402.2L634.3 403.1L634.8 400.8L635.2 400.8L635.7 400.5L636.1 401.1L636.5 399.9L637 396.4L637.5 392.8L637.9 390.4L638.4 387L638.8 385.8L639.2 381.2L639.7 377.7L640.2 374.7L640.6 371.2L641 367.8L641.5 367.7L642 372.3L642.4 377.9L642.9 380.8L643.3 384.9L643.8 387.9L644.2 390.1L644.7 395L645.1 397.9L645.5 394.5L646 390.7L646.5 388.4L646.9 385.6L647.4 388L647.8 389.1L648.2 390.3L648.7 390.3L649.2 393.1L649.6 394.7L650 396.8L650.5 395.8L651 396.1L651.4 397L651.9 398.5L652.3 400L652.8 398.2L653.2 400L653.7 399.7L654.1 399.3L654.5 403.1L655 405.9L655.5 406.7L655.9 409L656.4 411L656.8 410.2L657.2 409.8L657.7 412.4L658.2 412.3L658.6 415.3L659 416.7L659.5 417.3L660 418.1L660.4 418.2L660.9 418.1L661.3 418.2L661.8 418.2L662.2 419.7L662.6 418.4L663.1 417.6L663.6 418.8L664 416.3L664.5 416.8L664.9 415.3L665.4 413.4L665.8 412L666.2 411.5L666.7 409.7L667.1 411L667.6 414.5L668.1 417.9L668.5 420.2L669 423.1L669.4 425.2L669.9 426.1L670.3 427.8L670.8 431L671.2 429.6L671.6 430.9L672.1 429L672.6 428.2L673 427.3L673.5 427.2L673.9 425.4L674.4 427.1L674.8 429.8L675.2 430.1L675.7 433.4L676.1 435.1L676.6 432L677.1 431.6L677.5 427.6L678 423.6L678.4 423L678.9 420.2L679.3 419.9L679.8 419.7L680.2 417.5L680.6 416.3L681.1 414.8L681.6 417.3L682 419.4L682.5 420.7L682.9 424.5L683.4 424.3L683.8 427.1L684.2 428.5L684.7 432L685.1 431.8L685.6 432.2L686.1 431.6L686.5 433.1L687 434.3L687.4 436.6L687.9 436.4L688.3 431.6L688.8 433.1L689.2 431.1L689.6 428.6L690.1 426.3L690.6 426L691 427.1L691.5 429.1L691.9 429.5L692.4 429.9L692.8 430.7L693.2 433.4L693.7 436.4L694.1 438.5L694.6 439.7L695.1 440.5L695.5 441.8L696 443.7L696.4 443.5L696.9 444.5L697.3 444.6L697.8 446.2L698.2 449.3L698.6 453.2L699.1 454.9L699.6 458L700 459.9L700.5 464.3L700.9 466.9L701.4 469.1L701.8 471.2L702.2 472.2L702.7 468.6L703.1 465.4L703.6 463.5L704.1 461.2L704.5 456.5L705 458.6L705.4 460L705.9 459.4L706.3 463.5L706.8 461.9L707.2 464.4L707.6 465.2L708.1 465.9L708.6 464.6L709 461.2L709.5 460.6L709.9 461.2L710.4 460L710.8 455L711.2 452.8L711.7 453.8L712.1 451L712.6 451L713.1 452.4L713.5 456.9L714 458.1L714.4 460.8L714.9 461.1L715.3 461.5L715.8 461.9L716.2 463.3L716.6 464.8L717.1 465.1L717.6 464.2L718 468.5L718.5 466.6L718.9 467.9L719.4 467.4L719.8 467.1L720.2 467.7L720.7 464.8L721.1 465.2L721.6 467.2L722.1 466.9L722.5 467.3L723 468L723.4 471.4L723.9 469.8L724.3 469.9L724.8 470.9L725.2 473.1L725.6 472.5L726.1 473.7L726.6 474.1L727 474.5L727.5 473.6L727.9 472.7L728.4 469.2L728.8 466.7L729.2 466.7L729.7 465.7L730.1 462.4L730.6 462.3L731.1 463.1L731.5 465.7L732 467.2L732.4 466.9L732.9 468.7L733.3 466.5L733.8 465L734.2 462L734.6 462.5L735.1 462.4L735.6 461.8L736 462.3L736.5 458.8L736.9 461L737.4 460.8L737.8 458.9L738.2 460.2L738.7 460.2L739.1 461L739.6 459.5L740.1 460.1L740.5 462.5L741 460.8L741.4 459.8L741.9 460.4L742.3 459.8L742.8 462.6L743.2 462.1L743.6 461.7L744.1 461.4L744.6 461.3L745 459.1L745.5 457.1L745.9 455.3L746.4 455.5L746.8 453.5L747.2 451.7L747.7 450.7L748.1 449.9L748.6 447.2L749.1 446.2L749.5 445.6L750 444.9L750.4 448.3L750.9 449.7L751.3 452.4L751.8 456.8L752.2 459.2L752.6 460.5L753.1 461.3L753.6 462.1L754 463.7L754.5 464.3L754.9 465.5L755.4 467.2L755.8 466.3L756.2 467.5L756.7 467.7L757.1 467.6L757.6 468.5L758.1 467.1L758.5 467.3L759 466.4L759.4 464.7L759.9 465.2L760.3 464.9L760.8 460.7L761.2 460L761.6 460.6L762.1 460.1L762.6 458.2L763 457.4L763.5 458L763.9 456.7L764.4 461L764.8 461.3L765.2 463.7L765.7 464.1L766.1 465.1L766.6 465L767.1 468L767.5 468.2L768 472.5L768.4 473.7L768.9 476.3L769.3 477.6L769.8 479.8L770.2 482L770.6 482L771.1 484.8L771.6 486.1L772 488.9L772.5 491L772.9 493.3L773.4 492.4L773.8 492.2L774.2 495.8L774.7 493L775.1 491.2L775.6 492.5L776.1 491.1L776.5 489.6L777 490.5L777.4 492.5L777.9 492.9L778.3 494.1L778.8 497.7L779.2 498L779.6 497.5L780.1 498.4L780.6 500.4L781 501.5L781.5 502L781.9 501.9L782.4 502.6L782.8 505.7L783.2 506.5L783.7 505.6L784.1 506.1L784.6 509L785.1 510.8L785.5 511.5L786 515.2L786.4 516.3L786.9 509.7L787.3 505.1L787.8 504.4L788.2 500.6L788.6 499.9L789.1 499L789.6 498.9L790 497.6L790.5 495.8L790.9 495L791.4 493.4L791.8 494.6L792.2 493.3L792.7 494.4L793.1 493L793.6 492.8L794.1 491.1L794.5 490.9L795 489.3L795.4 487.4L795.9 485.5L796.3 485.1L796.8 484.1L797.2 486L797.6 486.7L798.1 486.1L798.6 486.7L799 487L799.5 489.3L799.9 489.1L800.4 488.9L800.8 488.4L801.2 490.9L801.7 491.1L802.1 491.6L802.6 491.9L803.1 491.9L803.5 491.1L804 490.6L804.4 492.4L804.9 490.1L805.3 489L805.8 487.7L806.2 487.9L806.6 490.3L807.1 492.2L807.6 493.1L808 494.7L808.5 494.9L808.9 495L809.4 495.4L809.8 495.6L810.2 493.5L810.7 493.6L811.1 493.3L811.6 490.4L812.1 490.5L812.5 492.8L813 491.6L813.4 493.3L813.9 490.7L814.3 492.1L814.8 493.1L815.2 492.3L815.6 493.2L816.1 491.9L816.6 492.6L817 491.8L817.5 489L817.9 490.2L818.4 489.6L818.8 487.6L819.2 488.6L819.7 486.4L820.1 487.4L820.6 486.9L821.1 485.8L821.5 488.4L822 486.6L822.4 486L822.9 486.9L823.3 483.6L823.8 484.2L824.2 481.6L824.6 482.3L825.1 481.9L825.6 479.9L826 480.1L826.5 475.8L826.9 477.4L827.4 476.4L827.8 475.6L828.2 474.6L828.7 471.8L829.1 471.5L829.6 467.8L830.1 466.3L830.5 464L831 460L831.4 458.8L831.9 457.8L832.3 458.4L832.8 458.7L833.2 458.8L833.6 459.4L834.1 457.3L834.6 452.5L835 450.5L835.5 448L835.9 447.8L836.4 444.9L836.8 445.1L837.2 449.8L837.7 450.8L838.1 451.3L838.6 449.2L839.1 445.3L839.5 442.8L840 439.8L840.4 436L840.9 435.7L841.3 436.7L841.8 434.7L842.2 436L842.6 436.5L843.1 434.4L843.6 437.7L844 436.5L844.5 437.7L844.9 440L845.4 439.9L845.8 442.8L846.2 442.4L846.7 445.2L847.1 445.8L847.6 447.7L848.1 447.7L848.5 447.8L849 446.5L849.4 450L849.9 449.7L850.3 448.1L850.8 445.2L851.2 443.8L851.6 442.4L852.1 440.4L852.6 441.2L853 441.3L853.5 442L853.9 443L854.4 444.6L854.8 445.3L855.2 446.8L855.7 447.7L856.1 449.1L856.6 450.3L857.1 449.4L857.5 451.5L858 453L858.4 457L858.9 456.4L859.3 459L859.8 461.5L860.2 464.2L860.6 465.2L861.1 464.3L861.6 463.9L862 463.2L862.5 461.8L862.9 463.4L863.4 466.1L863.8 466.4L864.2 469L864.7 470.1L865.1 473.6L865.6 475.5L866.1 475.2L866.5 475.6L867 476.1L867.4 475.8L867.9 476.4L868.3 478.3L868.8 477.5L869.2 474.8L869.6 475.3L870.1 473.9L870.6 473.2L871 469L871.5 470.7L871.9 469.9L872.4 469.1L872.8 467.3L873.2 467.5L873.7 466L874.1 464.7L874.6 464.6L875.1 465.4L875.5 462.9L876 463.7L876.4 461.5L876.9 462.3L877.3 459.5L877.8 460.2L878.2 458.8L878.6 456.7L879.1 454.5L879.6 452.2L880 449.6L880.5 446.8L880.9 445L881.4 441.5L881.8 444.7L882.2 439.9L882.7 439.3L883.1 440.5L883.6 441.9L884.1 441.6L884.5 439.5L885 442.3L885.4 443.7L885.9 442.3L886.3 440.8L886.8 442L887.2 441.9L887.6 444.2L888.1 446.3L888.6 447L889 448.5L889.5 450L889.9 449.2L890.4 451.3L890.8 451.9L891.2 456.4L891.7 452.3L892.1 450.7L892.6 451.6L893.1 449.1L893.5 448.4L894 448.4L894.4 446.4L894.9 445.9L895.3 446.8L895.8 448.8L896.2 445.2L896.6 445.9L897.1 443.8L897.6 442.5L898 441.5L898.5 441.4L898.9 442L899.4 439.9L899.8 437.9L900.2 440.1L900.7 440.8L901.1 444.3L901.6 443.6L902.1 444.3L902.5 445.3L903 444.1L903.4 447L903.9 448.2L904.3 447.5L904.8 446.6L905.2 445.9L905.6 445.4L906.1 445.2L906.6 442.7L907 441.2L907.5 439.7L907.9 437.9L908.4 437.1L908.8 437.2L909.2 435.4L909.7 433.2L910.1 431L910.6 430.1L911.1 425.8L911.5 423.3L912 420.6L912.4 419.9L912.9 416.6L913.3 415.3L913.8 413.6L914.2 412.5L914.6 413.3L915.1 413.1L915.6 414.2L916 414.1L916.5 413.6L916.9 410.9L917.4 409.6L917.8 406.7L918.2 407.1L918.7 405.8L919.1 408.9L919.6 410L920.1 412.5L920.5 417.2L921 419.1L921.4 420.9L921.9 424.6L922.3 427.6L922.8 429.6L923.2 433.4L923.6 433.5L924.1 433.7L924.6 436.6L925 439.3L925.5 440.4L925.9 441L926.4 445L926.8 440.8L927.2 438.5L927.7 435.3L928.1 436.3L928.6 438.5L929.1 441.9L929.5 445L930 448.6L930.4 445.8L930.9 444.4L931.3 441L931.8 438.7L932.2 436.1L932.6 433L933.1 431.2L933.6 429L934 429.3L934.5 424.6L934.9 422.7L935.4 423.3L935.8 424.2L936.2 424.4L936.7 425.3L937.1 427.3L937.6 426.7L938.1 425.8L938.5 424.7L939 421.1L939.4 419.5L939.9 419.3L940.3 418L940.8 419.2L941.2 419.6L941.6 417.4L942.1 418.1L942.6 422.4L943 424.4L943.5 430.8L943.9 434.4L944.4 436.4L944.8 438.6L945.2 438.6L945.7 436.3L946.1 437L946.6 437.1L947.1 435.1L947.5 435.5L948 437.5L948.4 438.6L948.9 440.5L949.3 443.2L949.8 444.2L950.2 445.5L950.6 447.2L951.1 446.6L951.6 448.6L952 450.3L952.5 452L952.9 451.5L953.4 450.2L953.8 449.9L954.2 452.1L954.7 449.7L955.1 450.4L955.6 447.9L956.1 446.9L956.5 447.5L957 448.3L957.4 449.1L957.9 452.4L958.3 454.3L958.8 457.3L959.2 457.4L959.6 456.9L960.1 460.4L960.6 461.4L961 463.2L961.5 465.3L961.9 465.3L962.4 466.7L962.8 467.7L963.2 469.1L963.7 469.4L964.1 473.3L964.6 475.7L965.1 477.2L965.5 476.5L966 479.1L966.4 482.4L966.9 483.8L967.3 484L967.8 485.4L968.2 486.6L968.6 488.2L969.1 489.3L969.6 489.5L970 488.4L970.5 486.2L970.9 485.3L971.4 486.3L971.8 484.7L972.2 482.8L972.7 480.9L973.1 483.2L973.6 485.8L974.1 486.9L974.5 487.8L975 489.3L975.4 490L975.9 493.2L976.3 494.7L976.8 495.9L977.2 495.1L977.6 495.3L978.1 497.9L978.6 494.9L979 492.8L979.5 494.7L979.9 492L980.4 492.9L980.8 492.6L981.2 492.5L981.7 494.4L982.1 492.2L982.6 490.1L983.1 488.8L983.5 485.5L984 485L984.4 483.7L984.9 485.9L985.3 487.9L985.8 487.4L986.2 486.9L986.6 488.1L987.1 488.3L987.6 488.8L988 488.3L988.5 488.3L988.9 487.3L989.4 486L989.8 486.5L990.2 486.1L990.7 485.9L991.1 487L991.6 487.6L992.1 490.4L992.5 490.9L993 491.3L993.4 491.7L993.9 491.4L994.3 493.8L994.8 491.9L995.2 493L995.6 491.3L996.1 492.5L996.6 493.5L997 492.8L997.5 491.3L997.9 493.2L998.4 493.7L998.8 495L999.2 496.4L999.7 500.1L1000.1 501.1L1000.6 501.9L1001.1 501.2L1001.5 500.8L1002 499.6L1002.4 499.1L1002.9 497.5L1003.3 497L1003.8 493.9L1004.2 494.5L1004.6 494.8L1005.1 492.7L1005.6 491.2L1006 490.2L1006.5 489.4L1006.9 490.2L1007.4 490L1007.8 490.6L1008.2 490.8L1008.7 491.5L1009.1 491.1L1009.6 491.2L1010.1 493L1010.5 492.7L1011 493.9L1011.4 494.8L1011.9 496L1012.3 497.7L1012.8 499.7L1013.2 501.8L1013.6 499.8L1014.1 502.8L1014.6 502.1L1015 502.5L1015.5 502.7L1015.9 502.7L1016.4 501.6L1016.8 502.8L1017.2 504.5L1017.7 502.8L1018.1 504.4L1018.6 507.1L1019.1 508.8L1019.5 511.9L1020 512.7L1020.4 513L1020.9 515.2L1021.3 516.1L1021.8 517.2L1022.2 519.1L1022.6 517.9L1023.1 519.1L1023.6 519.9L1024 518.4L1024.5 521.7L1024.9 522.2L1025.3 523.1L1025.8 525.8L1026.2 527L1026.7 526.2L1027.2 526.4L1027.6 526.1L1028.1 524.6L1028.5 522.2L1029 522.7L1029.4 521.4L1029.8 520.5L1030.3 520.5L1030.8 519.2L1031.2 520.7L1031.7 517.6L1032.1 518.8L1032.6 519.7L1033 520L1033.5 522.1L1033.9 524.9L1034.3 524.6L1034.8 525.1L1035.2 524.8L1035.7 526.4L1036.2 527.4L1036.6 529.3L1037.1 530.1L1037.5 532.1L1038 532.7L1038.4 532.4L1038.8 532.3L1039.3 534.5L1039.8 534.6L1040.2 535.8L1040.7 537.4L1041.1 538.4L1041.6 537.6L1042 538.8L1042.5 539.9L1042.9 540.7L1043.3 538.6L1043.8 537.5L1044.2 536.8L1044.7 537.5L1045.2 540.3L1045.6 539.5L1046.1 540L1046.5 541.4L1047 543L1047.4 542.5L1047.8 543.5L1048.3 543.7L1048.8 542.4L1049.2 543.2L1049.7 542.5L1050.1 541.8L1050.6 540L1051 537.9L1051.5 536.4L1051.9 534.9L1052.3 535.9L1052.8 535.5L1053.2 536.3L1053.7 535.8L1054.2 538.1L1054.6 537.6L1055.1 539L1055.5 533.4L1056 534.4L1056.4 529.9L1056.8 527.1L1057.3 524.4L1057.8 535.8L1057.8 535.0"/>
    <path id="dem" stroke="#264478" d="M148.8 573L149.2 572L149.7 570.9L150.1 569.6L150.6 568.9L151 568.5L151.4 567L151.9 565.2L152.3 565.6L152.8 561.8L153.2 561.5L153.7 558L154.2 554.2L154.6 552.8L155.1 550.5L155.5 547.5L155.9 546.1L156.4 543L156.8 541.4L157.3 541.4L157.8 537.4L158.2 536.6L158.7 534.8L159.1 531.9L159.6 531.8L160 532.5L160.4 536.1L160.9 538.1L161.3 539.7L161.8 542.4L162.2 544.1L162.7 544.7L163.2 544.1L163.6 543L164.1 543.5L164.5 541L164.9 540L165.4 540.1L165.8 545.2L166.3 546.6L166.8 548.4L167.2 551L167.7 552.2L168.1 552.7L168.6 552.4L169 550.4L169.4 549.3L169.9 547.3L170.3 545.5L170.8 545.3L171.2 545.1L171.7 544.9L172.2 542L172.6 540.5L173.1 538.9L173.5 537.1L173.9 537.7L174.4 536.5L174.8 536.3L175.3 534.2L175.8 533.1L176.2 533L176.7 530.1L177.1 528.7L177.6 529.2L178 529.5L178.4 528L178.9 524.9L179.3 523.8L179.8 521.7L180.2 521.6L180.7 520.7L181.2 517.2L181.6 517L182.1 517.2L182.5 514.9L182.9 513.7L183.4 512.7L183.8 512L184.3 511.6L184.8 511.5L185.2 509.8L185.7 509.8L186.1 508.1L186.6 507L187 505.2L187.4 503.9L187.9 504L188.3 500.4L188.8 500L189.2 500.9L189.7 503.3L190.2 505.5L190.6 504.5L191.1 508.4L191.5 507.6L191.9 504.9L192.4 504.3L192.8 503.6L193.3 503.6L193.8 501.5L194.2 496.4L194.7 497.6L195.1 493.7L195.6 493.8L196 493.8L196.4 494.8L196.9 494.4L197.3 494.7L197.8 492.1L198.2 491L198.7 489.4L199.2 489L199.6 487.3L200.1 485.9L200.5 486.4L200.9 484L201.4 481.7L201.8 479.6L202.3 478.2L202.8 475.2L203.2 475.4L203.7 473.8L204.1 472.7L204.6 472.3L205 476.8L205.4 480.5L205.9 486.7L206.3 489.5L206.8 489.2L207.2 489.1L207.7 490.8L208.2 492L208.6 492.4L209.1 494.6L209.5 494.6L209.9 494.1L210.4 495.3L210.8 499.1L211.3 503L211.8 502.8L212.2 505.5L212.7 508L213.1 510L213.6 512.1L214 514.1L214.4 513.8L214.9 516.2L215.4 517.6L215.8 518.8L216.2 520.7L216.7 523.7L217.2 526.4L217.6 529L218.1 531.6L218.5 533.6L218.9 534.2L219.4 531.8L219.9 530.1L220.3 526.2L220.8 523.4L221.2 522.7L221.7 520.4L222.1 517.3L222.6 518.2L223 517.6L223.4 518.2L223.9 521.4L224.4 520.6L224.8 521.8L225.2 522.7L225.7 523.8L226.2 524.9L226.6 523.4L227.1 524.8L227.5 524.5L227.9 525.8L228.4 527.8L228.9 528L229.3 531.7L229.8 528.5L230.2 528.7L230.7 528.9L231.1 529.3L231.6 528.9L232 529.3L232.4 528L232.9 525.6L233.4 527.3L233.8 525.4L234.2 525.7L234.7 524.6L235.2 522.2L235.6 520L236.1 521.2L236.5 519.9L236.9 522.4L237.4 522.9L237.9 524.3L238.3 524.3L238.8 524.5L239.2 525.2L239.7 526.8L240.1 527.9L240.6 527.3L241 526.2L241.4 524.5L241.9 522.5L242.4 521.3L242.8 520L243.2 518.6L243.7 519.4L244.2 519.1L244.6 519.4L245.1 514.9L245.5 515.4L245.9 514L246.4 512.9L246.9 512.2L247.3 510.9L247.8 508.3L248.2 507.9L248.7 507.1L249.1 507L249.6 505.1L250 505.8L250.4 503.1L250.9 503.3L251.4 501.3L251.8 501.3L252.2 503.3L252.7 506.5L253.2 505.3L253.6 507.1L254.1 505.2L254.5 507.3L254.9 505.7L255.4 503.6L255.9 505.8L256.3 506.8L256.8 506.3L257.2 504.8L257.6 505.9L258.1 504.7L258.6 504.4L259 503.3L259.4 503.9L259.9 502.5L260.4 501.4L260.8 500.5L261.2 500.1L261.7 499.2L262.1 498.2L262.6 497.9L263.1 497.6L263.5 497L263.9 498.1L264.4 498.1L264.9 497.5L265.3 497L265.8 498.2L266.2 500.4L266.6 500.5L267.1 500.2L267.6 502.2L268 500.5L268.4 503.7L268.9 504.7L269.4 506.3L269.8 509.3L270.2 509.8L270.7 511.4L271.1 511.6L271.6 513.6L272.1 513.1L272.5 512.4L272.9 513L273.4 511.8L273.9 512.2L274.3 511.1L274.8 513.1L275.2 512.6L275.6 512.8L276.1 510.7L276.6 508.7L277 509.5L277.5 509.3L277.9 507.2L278.4 507.4L278.8 505.2L279.2 505L279.7 503.6L280.1 501.6L280.6 499.5L281.1 498.6L281.5 499.2L282 497.8L282.4 497.1L282.9 495.3L283.3 494.2L283.8 493.9L284.2 492.7L284.6 491.7L285.1 491.2L285.6 494.3L286 496.4L286.5 495.1L286.9 498.8L287.4 497.8L287.8 499.6L288.2 499.9L288.7 500L289.1 500L289.6 502.2L290.1 503.8L290.5 499.1L291 499.4L291.4 498.3L291.9 496.5L292.3 496.1L292.8 495L293.2 492.6L293.6 492.7L294.1 492.8L294.6 493.7L295 494.1L295.5 494.4L295.9 496.9L296.4 493.9L296.8 496.2L297.2 497.5L297.7 497.9L298.1 498.9L298.6 496.7L299.1 494.2L299.5 494.3L300 492.7L300.4 490.8L300.9 489.7L301.3 491.5L301.8 488.9L302.2 487.4L302.6 485.6L303.1 485.2L303.6 485.9L304 484L304.5 481.5L304.9 482.6L305.4 481.4L305.8 479.7L306.2 478.8L306.7 479.1L307.1 482.1L307.6 482.1L308.1 485.4L308.5 484.4L309 485.1L309.4 485.7L309.9 486.9L310.3 485.2L310.8 484.6L311.2 485.7L311.6 481.1L312.1 480.1L312.6 480.5L313 477.9L313.5 478.1L313.9 476.2L314.4 477L314.8 474.7L315.2 475.2L315.7 475L316.1 475.6L316.6 475.7L317.1 474.1L317.5 470.9L318 471.7L318.4 470.3L318.9 469.1L319.3 470.6L319.8 471.7L320.2 474.1L320.6 478L321.1 480.2L321.6 481.6L322 483.6L322.5 485.2L322.9 485L323.4 486.5L323.8 486.9L324.2 487.4L324.7 489L325.1 489.3L325.6 491L326.1 491.1L326.5 492.2L327 493.5L327.4 495.2L327.9 495.5L328.3 499.6L328.8 500.3L329.2 501.4L329.6 502.4L330.1 505.7L330.6 507.5L331 508.9L331.5 507.6L331.9 510.4L332.4 510.6L332.8 510.3L333.2 508.8L333.7 506L334.1 502.2L334.6 499.8L335.1 496.4L335.5 497.1L336 495.2L336.4 491.3L336.9 491.7L337.3 489.9L337.8 488.1L338.2 489.3L338.6 486L339.1 489.3L339.6 492.2L340 494.9L340.5 496L340.9 497.9L341.4 500L341.8 497.9L342.2 498.2L342.7 498.8L343.1 496.9L343.6 496.8L344.1 496.1L344.5 495L345 493.6L345.4 494.1L345.9 495.6L346.3 495.3L346.8 498.2L347.2 499L347.6 500.5L348.1 500.3L348.6 501.8L349 501L349.5 500.2L349.9 500.1L350.4 499.6L350.8 501.8L351.2 500.8L351.7 500.1L352.1 497.6L352.6 496.9L353.1 495.8L353.5 496L354 494.4L354.4 495L354.9 493.3L355.3 493.6L355.8 493.6L356.2 493.3L356.6 493.4L357.1 492.6L357.6 492.9L358 493.9L358.5 494.9L358.9 492.4L359.4 491.8L359.8 493.8L360.2 492.2L360.7 492.5L361.1 491.7L361.6 490.3L362.1 492.2L362.5 491.3L363 494.9L363.4 494.3L363.9 493.7L364.3 492.4L364.8 492.3L365.2 489.6L365.6 489.2L366.1 488.1L366.6 487L367 482.8L367.5 482.3L367.9 480.4L368.4 479.2L368.8 475.7L369.2 474.8L369.7 473.2L370.1 473.4L370.6 473.3L371.1 474.9L371.5 475.2L372 474.9L372.4 476.8L372.9 477.1L373.3 478.9L373.8 481.4L374.2 481.1L374.6 478.7L375.1 480.5L375.6 476.1L376 475.6L376.5 475.1L376.9 473.2L377.4 473.3L377.8 473.1L378.2 471.3L378.7 471.8L379.1 470.8L379.6 469.2L380.1 469.3L380.5 469.7L381 469.6L381.4 468.2L381.9 465L382.3 463.3L382.8 461.5L383.2 459.5L383.6 459.3L384.1 457.1L384.6 454.3L385 451.5L385.5 449.6L385.9 448.8L386.4 447L386.8 448.9L387.2 452L387.7 454L388.1 459L388.6 460.6L389.1 462.1L389.5 459.9L390 458.9L390.4 458.6L390.9 456.4L391.3 457L391.8 454.9L392.2 451.2L392.6 452.6L393.1 453.4L393.6 454.1L394 456.7L394.5 454.5L394.9 453.7L395.4 453.7L395.8 454.9L396.2 454.5L396.7 458.8L397.1 459.7L397.6 463.5L398.1 465.5L398.5 466.8L399 466.7L399.4 470.3L399.9 473.1L400.3 472.5L400.8 473.2L401.2 471.5L401.6 471.7L402.1 470.6L402.6 468.9L403 468.8L403.5 469.4L403.9 468.6L404.4 465.7L404.8 466.4L405.2 462.6L405.7 464.7L406.2 462.3L406.6 462.5L407.1 460.8L407.5 460.4L407.9 457.9L408.4 456L408.9 457.3L409.3 454L409.8 454.1L410.2 455.4L410.7 454.9L411.1 454L411.6 453.4L412 453.4L412.4 451.2L412.9 449.6L413.4 449.3L413.8 448.2L414.2 446.6L414.7 445.8L415.2 446.8L415.6 443.9L416.1 443.3L416.5 441L416.9 441.8L417.4 440.1L417.9 439.1L418.3 438.4L418.8 437.2L419.2 439.1L419.7 442.1L420.1 442.1L420.6 444.1L421 447.1L421.4 445.7L421.9 443.2L422.4 441.4L422.8 440.1L423.2 435.2L423.7 433.8L424.2 430.9L424.6 429.5L425.1 429.5L425.5 428.3L425.9 429.5L426.4 432.1L426.9 431.2L427.3 432.2L427.8 431.5L428.2 433.2L428.7 435.4L429.1 437.1L429.6 437L430 436.4L430.4 438.6L430.9 440.4L431.4 443.2L431.8 449L432.2 450.8L432.7 451L433.2 452.1L433.6 456.5L434.1 456.5L434.5 459.6L434.9 461.6L435.4 463.6L435.9 467.5L436.3 468.3L436.8 471.7L437.2 471.2L437.7 474.3L438.1 475L438.6 473.3L439 471L439.4 470.3L439.9 468.3L440.4 465.9L440.8 465.9L441.2 461.7L441.7 462.8L442.2 462.4L442.6 464.3L443.1 466.2L443.5 467.8L443.9 470.1L444.4 468.8L444.9 467.2L445.3 467.9L445.8 465.9L446.2 463.7L446.7 465.2L447.1 464.5L447.6 464.7L448 463L448.4 461.1L448.9 458.3L449.4 456.8L449.8 455.4L450.2 453L450.7 451L451.2 451.7L451.6 449.3L452.1 447.7L452.5 444.2L452.9 442.1L453.4 439.2L453.9 436.2L454.3 441.1L454.8 439.2L455.2 440.8L455.7 441.7L456.1 442.6L456.6 443.5L457 444.2L457.4 445.7L457.9 448.1L458.4 449.4L458.8 451.9L459.2 454.3L459.7 456.9L460.2 457.7L460.6 455.8L461.1 455L461.5 452.6L461.9 452.9L462.4 446.7L462.9 446.2L463.3 442.4L463.8 441.3L464.2 437.9L464.7 437.2L465.1 435.6L465.6 434.7L466 436.6L466.4 434.8L466.9 434.2L467.4 432.6L467.8 429.8L468.2 428.9L468.7 427.5L469.2 427.4L469.6 426.4L470.1 424.7L470.5 425.2L470.9 424.8L471.4 423.5L471.9 423.3L472.3 421.5L472.8 419L473.2 418.1L473.7 417.9L474.1 414.5L474.6 417L475 415.3L475.4 412.9L475.9 414.5L476.4 413.8L476.8 416.3L477.2 417.5L477.7 418.7L478.2 420.8L478.6 424.3L479.1 423.3L479.5 425.6L479.9 425.3L480.4 424.2L480.9 424.9L481.3 423.4L481.8 418.5L482.2 415.8L482.7 412.2L483.1 408.5L483.6 406.4L484 403.4L484.4 399.2L484.9 394.3L485.4 393.1L485.8 390.5L486.2 386.7L486.7 384.1L487.2 383.4L487.6 379.8L488.1 383.3L488.5 388.5L488.9 393.3L489.4 397L489.9 395.9L490.3 395.1L490.8 392.4L491.2 390.7L491.7 388.4L492.1 387.4L492.6 384.1L493 381.3L493.4 380.1L493.9 383.4L494.4 386.7L494.8 389L495.2 391.4L495.7 393.2L496.2 392.9L496.6 392.7L497.1 393.2L497.5 392.3L497.9 398.5L498.4 402L498.9 407.4L499.3 412.1L499.8 412.2L500.2 411.6L500.7 407.8L501.1 406.2L501.6 406.1L502 403L502.4 399.9L502.9 395.8L503.4 393.3L503.8 390.7L504.2 387.8L504.7 384.5L505.2 383.4L505.6 385.1L506.1 384L506.5 384L506.9 386.3L507.4 386.8L507.9 385.7L508.3 385.9L508.8 385.7L509.2 383.2L509.7 381.3L510.1 378.9L510.6 377.7L511 376.3L511.4 377.4L511.9 376.2L512.4 375L512.8 373.9L513.2 373.8L513.7 371.7L514.2 370.9L514.6 370.6L515 370.3L515.5 372.6L516 373.2L516.4 373.3L516.9 373.5L517.3 374.3L517.8 374.3L518.2 374.8L518.7 374.6L519.1 371.5L519.5 371.7L520 370.8L520.5 366.6L520.9 363.7L521.4 360.8L521.8 358.1L522.2 353.7L522.7 351L523.2 348.2L523.6 346.6L524 343.1L524.5 341.4L525 337.2L525.4 336.1L525.9 333.8L526.3 331.9L526.8 325.4L527.2 326.2L527.7 327.5L528.1 329.4L528.5 331.8L529 333L529.5 333.8L529.9 334.3L530.4 337.4L530.8 337.7L531.2 339.6L531.7 343.2L532.2 349.3L532.6 358.6L533 363.8L533.5 371.8L534 378.7L534.4 388.3L534.9 386L535.3 380.4L535.8 379L536.2 374.9L536.7 380.6L537.1 384.7L537.5 386.7L538 390.9L538.5 394.6L538.9 397.8L539.4 400.3L539.8 402.3L540.2 402L540.7 397.1L541.2 392.5L541.6 388L542 378.9L542.5 375.6L543 370.6L543.4 368.3L543.9 364.5L544.3 371.4L544.8 378.7L545.2 385.5L545.7 390.4L546.1 392.4L546.5 394.3L547 394.1L547.5 394.5L547.9 394.1L548.4 392.9L548.8 387.2L549.2 386.9L549.7 385.4L550.2 383.5L550.6 387L551 388.2L551.5 393.1L552 392.3L552.4 394.9L552.9 394.4L553.3 391.9L553.8 388.4L554.2 387.8L554.7 388.3L555.1 390.5L555.5 393.8L556 395.9L556.5 397.9L556.9 399.2L557.4 396.5L557.8 395.5L558.2 394.5L558.7 395.9L559.2 396.7L559.6 400.9L560 404.2L560.5 408.7L561 409.4L561.4 413.7L561.9 415.5L562.3 417.7L562.8 420L563.2 420.7L563.7 424L564.1 427.3L564.5 427L565 429.8L565.5 430.8L565.9 432L566.4 434.1L566.8 430.3L567.2 430.9L567.7 426.9L568.2 427.1L568.6 431L569 433.8L569.5 435.2L570 438.9L570.4 439.9L570.9 443.1L571.3 443.4L571.8 444.8L572.2 445.5L572.7 440.4L573.1 437.9L573.5 433.4L574 428.3L574.5 418.4L574.9 410.8L575.4 411.7L575.8 414.9L576.2 415.8L576.7 420.9L577.2 425.1L577.6 428.9L578 435.4L578.5 439.8L579 444.8L579.4 450.8L579.9 457L580.3 460.6L580.8 458.5L581.2 456.1L581.7 454.1L582.1 454.2L582.5 456.1L583 457.8L583.5 458.7L583.9 458.4L584.4 458.9L584.8 459L585.2 458.7L585.7 456.6L586.2 457.9L586.6 459.1L587 458.9L587.5 462L588 462.8L588.4 466.6L588.9 468.2L589.3 468.1L589.8 467.8L590.2 466.8L590.7 465.1L591.1 465.9L591.5 465.8L592 467.5L592.5 464.1L592.9 467.2L593.4 470.8L593.8 473.3L594.2 478L594.7 478.4L595.2 481L595.6 480.3L596 479.8L596.5 481.4L597 481.8L597.4 480.7L597.9 481L598.3 480.6L598.8 481.8L599.2 481.7L599.7 483.4L600.1 483L600.5 484.3L601 485.4L601.5 484.6L601.9 488L602.4 487.1L602.8 490.9L603.2 489.7L603.7 490.7L604.2 492.2L604.6 493.5L605 496.4L605.5 493.6L606 495.1L606.4 493.7L606.9 493.4L607.3 491.6L607.8 491.6L608.2 494.8L608.7 493.8L609.1 492.3L609.5 493.9L610 495.2L610.5 497.7L610.9 498.1L611.4 499.4L611.8 501.2L612.2 502.3L612.7 504.4L613.2 504.2L613.6 506.2L614 506.5L614.5 506.6L615 509.5L615.4 509.7L615.9 512.8L616.3 512.6L616.8 514.9L617.2 516.7L617.7 518.9L618.1 523.3L618.5 527.1L619 531L619.5 536L619.9 534.9L620.4 532L620.8 531.3L621.2 530.1L621.7 525.9L622.2 524L622.6 520.3L623 520.5L623.5 517.5L624 515L624.4 513.7L624.9 510.3L625.3 510L625.8 507.2L626.2 505.1L626.7 501.5L627.1 503L627.5 507.8L628 511.4L628.5 514L628.9 517.7L629.4 521.1L629.8 524.8L630.2 526.2L630.7 528.1L631.2 531.8L631.6 532.9L632 532.7L632.5 536.7L633 538.2L633.4 540L633.9 540.6L634.3 539.7L634.8 537.5L635.2 539.5L635.7 540.2L636.1 540L636.5 537.5L637 538.1L637.5 536.6L637.9 532.5L638.4 529.9L638.8 528.1L639.2 526.2L639.7 521.4L640.2 522.2L640.6 519.8L641 519.6L641.5 516.9L642 513.5L642.4 518.1L642.9 523.2L643.3 526.5L643.8 533.2L644.2 532.5L644.7 532.1L645.1 528.9L645.5 528.7L646 526.3L646.5 528.1L646.9 529.2L647.4 532.2L647.8 535L648.2 535L648.7 536.2L649.2 537.5L649.6 537L650 537.9L650.5 538.6L651 537.8L651.4 538.9L651.9 539.1L652.3 539L652.8 541.3L653.2 542.5L653.7 544.7L654.1 545.4L654.5 547.9L655 549.6L655.5 551.6L655.9 550.5L656.4 551.4L656.8 551.8L657.2 552.4L657.7 554.5L658.2 555.8L658.6 556.2L659 556.8L659.5 557.2L660 557.3L660.4 557.5L660.9 559L661.3 558.6L661.8 558.8L662.2 560L662.6 560.8L663.1 560.5L663.6 559.9L664 558.7L664.5 558.1L664.9 559.1L665.4 558L665.8 557.6L666.2 555.6L666.7 553.9L667.1 555L667.6 557L668.1 559.8L668.5 562.4L669 566.2L669.4 567.4L669.9 568.4L670.3 568L670.8 567.8L671.2 569.7L671.6 568.8L672.1 564.3L672.6 563.6L673 563.1L673.5 564.1L673.9 563L674.4 565.6L674.8 566.4L675.2 568L675.7 569.7L676.1 571.6L676.6 572.4L677.1 568.3L677.5 566.7L678 564.1L678.4 560.8L678.9 561.6L679.3 560.6L679.8 559.4L680.2 557.6L680.6 558.9L681.1 557.1L681.6 559.1L682 558.1L682.5 559.5L682.9 561.6L683.4 562.2L683.8 565.6L684.2 566.8L684.7 566.2L685.1 567.3L685.6 569.6L686.1 570.1L686.5 571.6L687 570L687.4 572.5L687.9 569.8L688.3 569.1L688.8 567.3L689.2 567.1L689.6 565.8L690.1 565.8L690.6 562.9L691 565.5L691.5 566.5L691.9 567.3L692.4 566.6L692.8 570.3L693.2 570.6L693.7 575.7L694.1 578L694.6 578.4L695.1 581L695.5 581.4L696 581.1L696.4 579.3L696.9 581.3L697.3 581.9L697.8 585.1L698.2 586.5L698.6 587.4L699.1 591.5L699.6 595.2L700 596.7L700.5 599.2L700.9 600.3L701.4 603.2L701.8 605.1L702.2 605L702.7 602.5L703.1 598.7L703.6 596.9L704.1 594.6L704.5 592.1L705 593.6L705.4 595L705.9 596.1L706.3 595.3L706.8 597L707.2 597.8L707.6 601.2L708.1 597.3L708.6 598L709 595.5L709.5 595.9L709.9 597.8L710.4 596.1L710.8 594.3L711.2 591.6L711.7 590.7L712.1 590.3L712.6 590.1L713.1 591.6L713.5 592.1L714 593.1L714.4 595L714.9 596.8L715.3 597.9L715.8 597.8L716.2 597.7L716.6 598L717.1 599L717.6 599.7L718 601.5L718.5 599.5L718.9 599.6L719.4 599.3L719.8 599.1L720.2 597.6L720.7 598.1L721.1 597.2L721.6 599.4L722.1 598.2L722.5 598.4L723 602.3L723.4 601.4L723.9 601.8L724.3 601.6L724.8 603.5L725.2 606.2L725.6 606.3L726.1 606L726.6 605.7L727 606.7L727.5 605.2L727.9 602.7L728.4 601.6L728.8 600.4L729.2 602.3L729.7 597.1L730.1 599.2L730.6 598.8L731.1 598.4L731.5 600.6L732 603.3L732.4 602.8L732.9 601.7L733.3 601L733.8 599L734.2 600.4L734.6 600L735.1 596.9L735.6 597.7L736 594.9L736.5 594.7L736.9 596.1L737.4 596.6L737.8 596.2L738.2 595.9L738.7 596.1L739.1 597.7L739.6 595.4L740.1 595.6L740.5 596.5L741 597.5L741.4 597.1L741.9 595L742.3 595.7L742.8 595.4L743.2 597.1L743.6 595.9L744.1 596.4L744.6 594.7L745 593L745.5 592.3L745.9 592L746.4 591.8L746.8 590.4L747.2 589.6L747.7 587.7L748.1 588L748.6 587.4L749.1 587.7L749.5 585.2L750 585.7L750.4 587.4L750.9 589.1L751.3 592.3L751.8 593.6L752.2 593.4L752.6 594.4L753.1 597.4L753.6 597.5L754 597L754.5 598.2L754.9 599.1L755.4 602.4L755.8 599.7L756.2 602.1L756.7 602L757.1 601.5L757.6 599.5L758.1 598.9L758.5 599.6L759 598.6L759.4 599.1L759.9 599.1L760.3 599L760.8 597L761.2 594.5L761.6 594.2L762.1 596.2L762.6 593.1L763 593L763.5 597.3L763.9 596.6L764.4 595.2L764.8 593.7L765.2 596.7L765.7 599.2L766.1 598.8L766.6 600.8L767.1 602.9L767.5 602.7L768 605.2L768.4 606.2L768.9 607.9L769.3 608.8L769.8 610.2L770.2 611.4L770.6 614L771.1 614.9L771.6 616.5L772 619.1L772.5 621.6L772.9 624.3L773.4 625L773.8 624.8L774.2 622.7L774.7 623.8L775.1 622.7L775.6 622.8L776.1 621.9L776.5 622.3L777 624.8L777.4 624.9L777.9 624.2L778.3 626.4L778.8 628L779.2 626.9L779.6 628.5L780.1 630.5L780.6 628L781 629.7L781.5 629.9L781.9 629L782.4 629.8L782.8 630.8L783.2 632.2L783.7 631.9L784.1 632.9L784.6 633.7L785.1 636.4L785.5 638.3L786 641.5L786.4 641L786.9 636.9L787.3 632.3L787.8 630.7L788.2 628.6L788.6 628.6L789.1 626.6L789.6 626.3L790 623.3L790.5 625.8L790.9 624.4L791.4 622.9L791.8 622.5L792.2 622.9L792.7 620.8L793.1 621.1L793.6 620.3L794.1 621.4L794.5 618.4L795 617.9L795.4 616.9L795.9 615.7L796.3 616.8L796.8 617.2L797.2 616.2L797.6 618L798.1 618.6L798.6 619.7L799 619L799.5 619.3L799.9 617.9L800.4 616.9L800.8 618.9L801.2 621.2L801.7 622.3L802.1 621.5L802.6 622.3L803.1 623L803.5 622.6L804 621.2L804.4 621.8L804.9 622.1L805.3 619.8L805.8 620.1L806.2 620L806.6 620.9L807.1 619.9L807.6 621.3L808 623.4L808.5 622.4L808.9 624.7L809.4 623.9L809.8 623.2L810.2 624.5L810.7 622.7L811.1 622L811.6 620.6L812.1 620.3L812.5 621L813 622.7L813.4 621.4L813.9 623.1L814.3 624L814.8 625.2L815.2 626.3L815.6 624.6L816.1 623.4L816.6 621.8L817 621.9L817.5 621.2L817.9 622.6L818.4 622.5L818.8 621L819.2 622.2L819.7 621.1L820.1 619.8L820.6 617.8L821.1 618.6L821.5 617.1L822 615.6L822.4 613.7L822.9 615.8L823.3 616.5L823.8 616.2L824.2 615.2L824.6 615.7L825.1 613.8L825.6 614.3L826 613.3L826.5 612.3L826.9 609.9L827.4 610.1L827.8 607.5L828.2 606.2L828.7 604.6L829.1 602.6L829.6 600L830.1 599.9L830.5 599.6L831 599.8L831.4 597.5L831.9 597.6L832.3 596.8L832.8 596.8L833.2 598L833.6 597.4L834.1 595.3L834.6 595.5L835 592.8L835.5 591.4L835.9 590.9L836.4 590L836.8 590.3L837.2 591.2L837.7 592.5L838.1 591.4L838.6 589L839.1 588.1L839.5 588.7L840 586L840.4 584.5L840.9 583L841.3 586.3L841.8 584.4L842.2 584.1L842.6 580.9L843.1 582.1L843.6 581L844 580.9L844.5 581.2L844.9 583.7L845.4 586.1L845.8 585.9L846.2 589L846.7 589.6L847.1 591.7L847.6 590.4L848.1 591.3L848.5 592.5L849 591.9L849.4 591.8L849.9 591.9L850.3 591L850.8 591L851.2 588.6L851.6 590.1L852.1 588.2L852.6 587.3L853 587.3L853.5 588.5L853.9 587.8L854.4 589.2L854.8 589.4L855.2 591.1L855.7 592.5L856.1 593L856.6 592.5L857.1 596.8L857.5 595.2L858 597L858.4 600.3L858.9 600.8L859.3 601.5L859.8 602.5L860.2 601.9L860.6 602.1L861.1 604.7L861.6 604.6L862 604.5L862.5 603.5L862.9 604.1L863.4 606L863.8 606.1L864.2 609.5L864.7 612.9L865.1 612.7L865.6 614.3L866.1 612.1L866.5 614.5L867 615.2L867.4 614.3L867.9 613.7L868.3 614.1L868.8 614.4L869.2 612.9L869.6 612.5L870.1 611L870.6 609.9L871 610.8L871.5 609.6L871.9 608.3L872.4 609.5L872.8 607.2L873.2 607.8L873.7 607.5L874.1 607.2L874.6 606.5L875.1 606.8L875.5 604.1L876 604.7L876.4 606.7L876.9 605.8L877.3 604.6L877.8 605.4L878.2 603.6L878.6 604L879.1 602.4L879.6 597.3L880 594.6L880.5 593.4L880.9 591.8L881.4 592.5L881.8 591.2L882.2 590.6L882.7 589.2L883.1 589L883.6 586.5L884.1 588.2L884.5 587.6L885 587.7L885.4 587.6L885.9 589.6L886.3 590L886.8 589.2L887.2 591.6L887.6 590.9L888.1 592.3L888.6 592.3L889 594.3L889.5 595.7L889.9 597L890.4 594.9L890.8 597.8L891.2 597.7L891.7 598L892.1 596.4L892.6 594.9L893.1 593.6L893.5 592.3L894 591.8L894.4 591.1L894.9 591.2L895.3 592.8L895.8 591.1L896.2 589.3L896.6 589.5L897.1 589.9L897.6 589.1L898 589.4L898.5 587.8L898.9 587.5L899.4 588.1L899.8 587.3L900.2 586.2L900.7 587.4L901.1 586.5L901.6 588.2L902.1 590.6L902.5 592.4L903 591.3L903.4 592.9L903.9 593.5L904.3 591.7L904.8 591.4L905.2 591.9L905.6 590.9L906.1 588.6L906.6 588.7L907 587.1L907.5 586.3L907.9 588.4L908.4 585.4L908.8 586.6L909.2 584.5L909.7 581.3L910.1 582.3L910.6 578.9L911.1 577.3L911.5 576.2L912 573.4L912.4 573.7L912.9 572.3L913.3 568.2L913.8 565.9L914.2 567.3L914.6 568L915.1 569.1L915.6 571.5L916 569.2L916.5 570.4L916.9 569.5L917.4 569.3L917.8 566.4L918.2 566.3L918.7 564.8L919.1 563.8L919.6 567.2L920.1 570.8L920.5 573.7L921 573.4L921.4 574.3L921.9 576.8L922.3 576.9L922.8 577.9L923.2 579.4L923.6 579.4L924.1 581.5L924.6 583.3L925 586.7L925.5 587.7L925.9 590.4L926.4 591.3L926.8 589.4L927.2 587.3L927.7 586.1L928.1 585.2L928.6 588.3L929.1 590.2L929.5 591.9L930 592.6L930.4 592.3L930.9 590.1L931.3 588.4L931.8 588.5L932.2 586.5L932.6 584.4L933.1 583.6L933.6 581.2L934 578L934.5 577.1L934.9 576.5L935.4 575.8L935.8 576.2L936.2 576.6L936.7 576.9L937.1 577.9L937.6 577.5L938.1 574.9L938.5 572.9L939 574.7L939.4 573L939.9 568.8L940.3 568.7L940.8 568.9L941.2 568.8L941.6 569.3L942.1 568.2L942.6 571.3L943 577.6L943.5 579.8L943.9 584.3L944.4 587.5L944.8 589.3L945.2 588.1L945.7 586.5L946.1 588.1L946.6 584.2L947.1 584.4L947.5 582.8L948 584.4L948.4 586.5L948.9 588.7L949.3 590.2L949.8 593.3L950.2 594.3L950.6 593.3L951.1 593.4L951.6 593.9L952 595.1L952.5 596.5L952.9 595.3L953.4 594.7L953.8 594L954.2 592.7L954.7 592.2L955.1 592.6L955.6 590.4L956.1 592.6L956.5 592.6L957 593.8L957.4 592.8L957.9 596.2L958.3 596.2L958.8 599L959.2 602.2L959.6 601.3L960.1 601.1L960.6 602.2L961 603.8L961.5 603.3L961.9 605.9L962.4 606.6L962.8 605.8L963.2 607.4L963.7 608.7L964.1 610.3L964.6 611.9L965.1 612.2L965.5 614.3L966 613.1L966.4 615.8L966.9 617L967.3 618.2L967.8 619.5L968.2 621.4L968.6 622L969.1 622.7L969.6 623.5L970 622.9L970.5 620.2L970.9 620.9L971.4 617.8L971.8 616.3L972.2 616.6L972.7 617L973.1 617.5L973.6 617.5L974.1 618L974.5 619.4L975 619.3L975.4 620.2L975.9 621.5L976.3 622.5L976.8 623L977.2 624.1L977.6 626.3L978.1 625.4L978.6 625.2L979 625L979.5 623.2L979.9 622.8L980.4 622.5L980.8 620.7L981.2 621L981.7 620.6L982.1 618.6L982.6 617.7L983.1 616.6L983.5 614.8L984 616.4L984.4 617.4L984.9 615.3L985.3 619.3L985.8 616.7L986.2 618L986.6 619.9L987.1 618.2L987.6 617.5L988 618.7L988.5 618.1L988.9 616.8L989.4 617.6L989.8 616.9L990.2 616.2L990.7 616.2L991.1 617.7L991.6 619.1L992.1 618.5L992.5 620.8L993 619.8L993.4 620.2L993.9 620.8L994.3 619.9L994.8 620.5L995.2 621.8L995.6 622.1L996.1 620.4L996.6 621.4L997 620.3L997.5 619.2L997.9 621.7L998.4 622.5L998.8 623.4L999.2 624.8L999.7 627.1L1000.1 627.3L1000.6 628L1001.1 628.3L1001.5 627.4L1002 625.6L1002.4 624.4L1002.9 625.7L1003.3 624.7L1003.8 623.2L1004.2 623L1004.6 620.2L1005.1 619.8L1005.6 619.6L1006 617.7L1006.5 617.7L1006.9 619L1007.4 621L1007.8 619.8L1008.2 621.1L1008.7 620.2L1009.1 619.1L1009.6 619.1L1010.1 620.5L1010.5 621.5L1011 621.4L1011.4 620.6L1011.9 621L1012.3 623.2L1012.8 622.6L1013.2 623.8L1013.6 625L1014.1 626.2L1014.6 625.9L1015 625.7L1015.5 624.8L1015.9 626.4L1016.4 626.4L1016.8 625.4L1017.2 627.9L1017.7 628.8L1018.1 628.3L1018.6 629L1019.1 632.5L1019.5 631.6L1020 634.4L1020.4 634.8L1020.9 635.4L1021.3 634.2L1021.8 636.8L1022.2 634.9L1022.6 638L1023.1 639.8L1023.6 639.5L1024 640.7L1024.5 641.2L1024.9 640.1L1025.3 641.5L1025.8 643.1L1026.2 644L1026.7 641L1027.2 640.5L1027.6 640.2L1028.1 640.7L1028.5 640.7L1029 639.4L1029.4 640.7L1029.8 637.8L1030.3 638L1030.8 637.5L1031.2 635.9L1031.7 634.7L1032.1 636.3L1032.6 637.3L1033 639.4L1033.5 639.2L1033.9 638.8L1034.3 639.2L1034.8 642.5L1035.2 642.4L1035.7 641L1036.2 641.7L1036.6 641.3L1037.1 643.4L1037.5 643.9L1038 645.3L1038.4 643.8L1038.8 645.7L1039.3 645.7L1039.8 647.1L1040.2 648.5L1040.7 650L1041.1 651.3L1041.6 649.8L1042 647.9L1042.5 648.8L1042.9 650.1L1043.3 650.7L1043.8 649.6L1044.2 648L1044.7 649.1L1045.2 651.6L1045.6 652.4L1046.1 653.4L1046.5 655.4L1047 656.6L1047.4 656.7L1047.8 655.3L1048.3 655.3L1048.8 655L1049.2 653.8L1049.7 653.9L1050.1 653.1L1050.6 652.7L1051 653.9L1051.5 652.4L1051.9 650.8L1052.3 649.6L1052.8 650.6L1053.2 651.7L1053.7 651.8L1054.2 653L1054.6 654.8L1055.1 655.3L1055.5 653.8L1056 651.8L1056.4 649.2L1056.8 648.9L1057.3 646.8L1057.8 653.9L1057.8 652.5"/>
    <path id="jpy" stroke="#7030a0" d="M148.8 576.2L149.2 576.5L149.7 576.9L150.1 577.3L150.6 577.5L151 578L151.4 578.3L151.9 578.9L152.3 578.5L152.8 577L153.2 575.3L153.7 573.9L154.2 573.9L154.6 571.2L155.1 570.2L155.5 570.9L155.9 571.2L156.4 568.7L156.8 568L157.3 569.9L157.8 568.4L158.2 568.1L158.7 568.2L159.1 568.1L159.6 566.6L160 566.9L160.4 565L160.9 565.6L161.3 565.5L161.8 565.1L162.2 563.3L162.7 563L163.2 562.7L163.6 567.7L164.1 565.6L164.5 564.9L164.9 564.9L165.4 566.3L165.8 564.8L166.3 564.4L166.8 564.1L167.2 563.7L167.7 563.3L168.1 562.7L168.6 563.5L169 560.3L169.4 560.3L169.9 559.5L170.3 557.8L170.8 558.6L171.2 554.2L171.7 555.5L172.2 555.8L172.6 553.9L173.1 553.1L173.5 553.4L173.9 553.4L174.4 552.3L174.8 550.6L175.3 550.1L175.8 553.6L176.2 553L176.7 555.3L177.1 556.1L177.6 558.1L178 555.1L178.4 553.9L178.9 552.1L179.3 550.2L179.8 549.8L180.2 546.7L180.7 546.3L181.2 546.4L181.6 545.3L182.1 545.3L182.5 543.9L182.9 541.6L183.4 542.4L183.8 540.1L184.3 539.5L184.8 538.8L185.2 538.4L185.7 537.4L186.1 538.7L186.6 536.6L187 536.7L187.4 537.1L187.9 536.1L188.3 537.4L188.8 540.2L189.2 542.2L189.7 542.7L190.2 545L190.6 543.6L191.1 541.6L191.5 540.4L191.9 538.6L192.4 538.5L192.8 536.2L193.3 536L193.8 534L194.2 534.5L194.7 532.2L195.1 531.2L195.6 530.2L196 530.2L196.4 530.1L196.9 529L197.3 528.3L197.8 526.8L198.2 524.2L198.7 522.8L199.2 521.8L199.6 517.7L200.1 516.2L200.5 513.2L200.9 511.6L201.4 507L201.8 506.3L202.3 510.2L202.8 516.6L203.2 521.2L203.7 525.6L204.1 528.3L204.6 528.4L205 529.5L205.4 530.4L205.9 531.8L206.3 532.9L206.8 533.3L207.2 532.5L207.7 530.3L208.2 528.7L208.6 527.2L209.1 527.7L209.5 524L209.9 523.4L210.4 525.8L210.8 526.9L211.3 529L211.8 529.7L212.2 531.2L212.7 532.7L213.1 533.5L213.6 535.1L214 535.2L214.4 531.6L214.9 531.9L215.4 530.2L215.8 529L216.2 528.8L216.7 526.4L217.2 524.4L217.6 524.1L218.1 524L218.5 526L218.9 527L219.4 528.8L219.9 529.9L220.3 529.7L220.8 529L221.2 526.9L221.7 525.6L222.1 524.9L222.6 521.3L223 520L223.4 521.7L223.9 522.3L224.4 525L224.8 525.7L225.2 527.8L225.7 529.1L226.2 531.6L226.6 533.6L227.1 535.4L227.5 537.2L227.9 539.1L228.4 541.2L228.9 543.7L229.3 545.6L229.8 547.2L230.2 548.3L230.7 550L231.1 553.3L231.6 555.9L232 551.1L232.4 551.2L232.9 550.6L233.4 548.8L233.8 549.4L234.2 547.6L234.7 548.4L235.2 547.5L235.6 546L236.1 544.9L236.5 543.8L236.9 544.4L237.4 545.1L237.9 542.5L238.3 544.3L238.8 544.2L239.2 544.7L239.7 541.9L240.1 541.5L240.6 542.4L241 542.1L241.4 541.2L241.9 541.5L242.4 540.2L242.8 540.8L243.2 535.6L243.7 533.9L244.2 533.8L244.6 531.4L245.1 532L245.5 528.2L245.9 526.7L246.4 525.4L246.9 522.8L247.3 523.7L247.8 521.1L248.2 519L248.7 520.2L249.1 519.6L249.6 515.7L250 513.6L250.4 514.8L250.9 516.5L251.4 518.8L251.8 521.8L252.2 523.1L252.7 523.3L253.2 522.6L253.6 522.2L254.1 521.4L254.5 520.4L254.9 519.7L255.4 518L255.9 515.8L256.3 515.7L256.8 513.3L257.2 514.3L257.6 511.2L258.1 511.2L258.6 510.6L259 507.5L259.4 505.9L259.9 505.9L260.4 502.2L260.8 503.3L261.2 502.5L261.7 500.4L262.1 501.8L262.6 500.9L263.1 499.6L263.5 500.1L263.9 499.3L264.4 502.2L264.9 501.8L265.3 502.9L265.8 503.2L266.2 502.6L266.6 503.4L267.1 506L267.6 509.4L268 511.5L268.4 513.6L268.9 515.1L269.4 515.6L269.8 517.5L270.2 520.2L270.7 520.5L271.1 521.1L271.6 521.5L272.1 521.2L272.5 522.1L272.9 521.2L273.4 519.5L273.9 519.1L274.3 517.3L274.8 516.5L275.2 514.5L275.6 512.8L276.1 513.5L276.6 512.6L277 509L277.5 508L277.9 506.8L278.4 505.6L278.8 502.3L279.2 499.4L279.7 497.7L280.1 496.5L280.6 495.2L281.1 493.3L281.5 490.7L282 487.4L282.4 487.6L282.9 487.8L283.3 484.3L283.8 483.8L284.2 485.3L284.6 485.2L285.1 485.2L285.6 485.5L286 487.4L286.5 487.4L286.9 487.8L287.4 488.5L287.8 488.8L288.2 488.3L288.7 486.5L289.1 486.5L289.6 487.3L290.1 485.6L290.5 489L291 490.5L291.4 489.6L291.9 488.4L292.3 488L292.8 484.6L293.2 483.1L293.6 480.6L294.1 480.4L294.6 477.1L295 475.8L295.5 477.9L295.9 479L296.4 479.2L296.8 481.8L297.2 481.4L297.7 485L298.1 483.1L298.6 485.4L299.1 484.5L299.5 484L300 484L300.4 483L300.9 482L301.3 478.8L301.8 476.6L302.2 477.1L302.6 477.6L303.1 475L303.6 472.9L304 471.4L304.5 470.2L304.9 468.4L305.4 468.6L305.8 466.4L306.2 464.2L306.7 463.3L307.1 464.1L307.6 462.2L308.1 462.2L308.5 462.5L309 463.9L309.4 461.4L309.9 460.6L310.3 461.2L310.8 460.4L311.2 461.9L311.6 462.8L312.1 464.2L312.6 460.8L313 460.1L313.5 458.7L313.9 455.5L314.4 456.8L314.8 453.9L315.2 453.3L315.7 452.5L316.1 453.5L316.6 456.2L317.1 456.7L317.5 456.5L318 460.9L318.4 464.5L318.9 466.5L319.3 470.4L319.8 474.6L320.2 477.3L320.6 483.8L321.1 485.6L321.6 487L322 490.8L322.5 492.7L322.9 496.3L323.4 501.9L323.8 502.2L324.2 503.8L324.7 504.9L325.1 505.7L325.6 506.8L326.1 507.8L326.5 509.3L327 510L327.4 508.5L327.9 510.2L328.3 512.5L328.8 515.9L329.2 517.1L329.6 519.2L330.1 522.1L330.6 525.9L331 526.7L331.5 530.1L331.9 529.9L332.4 533.2L332.8 532.2L333.2 530L333.7 529.5L334.1 526.1L334.6 526.1L335.1 522.6L335.5 519.3L336 517.2L336.4 517.8L336.9 516.5L337.3 513.4L337.8 512.4L338.2 512.7L338.6 510.5L339.1 513L339.6 512.3L340 516.4L340.5 516.7L340.9 519.2L341.4 519L341.8 521.3L342.2 520.9L342.7 522.6L343.1 522.8L343.6 520.1L344.1 520.1L344.5 519.9L345 518.2L345.4 518L345.9 518L346.3 515.1L346.8 515.8L347.2 514.5L347.6 514.5L348.1 513.5L348.6 512.1L349 513.3L349.5 512.7L349.9 512.7L350.4 512.5L350.8 513L351.2 512.1L351.7 512.7L352.1 514.5L352.6 514L353.1 515.2L353.5 514.7L354 514.8L354.4 515.8L354.9 515.3L355.3 515.7L355.8 516.2L356.2 517.4L356.6 516.5L357.1 517.9L357.6 517.3L358 517.2L358.5 517.3L358.9 518L359.4 517.7L359.8 517.2L360.2 517.5L360.7 519.6L361.1 521.7L361.6 522.9L362.1 523.2L362.5 523.8L363 523.3L363.4 525.3L363.9 525.7L364.3 526L364.8 522.9L365.2 522.1L365.6 518.5L366.1 518.7L366.6 519.9L367 516.6L367.5 516.9L367.9 515.9L368.4 514.7L368.8 514.1L369.2 511.8L369.7 509.6L370.1 510.8L370.6 511.4L371.1 508L371.5 509.8L372 511.7L372.4 514L372.9 514.4L373.3 515.6L373.8 516.6L374.2 515.1L374.6 515.5L375.1 515.3L375.6 514.2L376 513.3L376.5 513L376.9 512.3L377.4 514.3L377.8 513.2L378.2 512.4L378.7 512.1L379.1 513L379.6 511.9L380.1 511.7L380.5 511.3L381 511.6L381.4 511.3L381.9 509.8L382.3 508.4L382.8 508.6L383.2 506.8L383.6 507.9L384.1 509.1L384.6 506.1L385 505.7L385.5 502.9L385.9 503.3L386.4 502.2L386.8 502.4L387.2 500.6L387.7 500.6L388.1 501.1L388.6 500.7L389.1 502.3L389.5 501.8L390 503L390.4 503.3L390.9 503.7L391.3 503L391.8 503L392.2 504.6L392.6 503.9L393.1 505L393.6 505.5L394 505.2L394.5 505.3L394.9 504.8L395.4 506.3L395.8 509.8L396.2 511.5L396.7 514.3L397.1 517.3L397.6 518.6L398.1 520L398.5 520.8L399 522.1L399.4 521.5L399.9 526.2L400.3 523.1L400.8 526.8L401.2 526.2L401.6 526.7L402.1 525.4L402.6 526.1L403 523L403.5 521.3L403.9 519.4L404.4 521.7L404.8 519.1L405.2 519.5L405.7 519.8L406.2 520.2L406.6 519.6L407.1 518.3L407.5 522.2L407.9 518.9L408.4 520.2L408.9 519.2L409.3 518.6L409.8 520.1L410.2 521L410.7 520.3L411.1 519.7L411.6 522.2L412 523.6L412.4 523.5L412.9 524.2L413.4 523L413.8 522.3L414.2 520.4L414.7 520.8L415.2 521.4L415.6 520.3L416.1 520.9L416.5 519.7L416.9 520.7L417.4 521.2L417.9 522.4L418.3 519.5L418.8 521.5L419.2 522L419.7 521.2L420.1 523.2L420.6 523.8L421 525.3L421.4 524L421.9 522L422.4 522.8L422.8 523.9L423.2 522.9L423.7 521.7L424.2 522.5L424.6 521.5L425.1 521.4L425.5 521.3L425.9 520.5L426.4 521.8L426.9 521.8L427.3 520.8L427.8 521.1L428.2 522.4L428.7 522.5L429.1 522.3L429.6 522.3L430 524.1L430.4 523.7L430.9 524.2L431.4 521.7L431.8 522.4L432.2 521.3L432.7 521L433.2 522.6L433.6 521.6L434.1 522.9L434.5 521.9L434.9 524.6L435.4 525.4L435.9 524.7L436.3 523.5L436.8 529.7L437.2 534.6L437.7 536.1L438.1 538.2L438.6 537.5L439 538.2L439.4 537.8L439.9 538.7L440.4 535.5L440.8 536.2L441.2 537.4L441.7 538L442.2 537.1L442.6 535.4L443.1 534.9L443.5 536.5L443.9 536.5L444.4 536.8L444.9 536.9L445.3 538.4L445.8 539.7L446.2 539.8L446.7 538.8L447.1 537.9L447.6 538.3L448 538.5L448.4 538.9L448.9 538L449.4 537L449.8 536.9L450.2 535L450.7 533L451.2 532.4L451.6 534.3L452.1 531.8L452.5 532.4L452.9 532.1L453.4 529.2L453.9 528.7L454.3 527.4L454.8 526.8L455.2 525.9L455.7 524.3L456.1 524.8L456.6 522.4L457 525.6L457.4 526.8L457.9 527.2L458.4 526.4L458.8 526.3L459.2 528.2L459.7 528.4L460.2 526.3L460.6 528.3L461.1 526.8L461.5 523.8L461.9 526.1L462.4 524.4L462.9 524.7L463.3 524.5L463.8 523.6L464.2 522L464.7 519.7L465.1 517.5L465.6 516.9L466 514.6L466.4 512.8L466.9 512.3L467.4 512.6L467.8 509.9L468.2 508L468.7 508.8L469.2 507.7L469.6 506.8L470.1 505.3L470.5 505L470.9 505.5L471.4 503.4L471.9 500.9L472.3 501.5L472.8 503.3L473.2 504L473.7 503.8L474.1 505.8L474.6 506.2L475 508.5L475.4 507.9L475.9 506.1L476.4 507.1L476.8 506.5L477.2 506.4L477.7 504L478.2 504.3L478.6 506L479.1 504.7L479.5 506.7L479.9 506.4L480.4 507L480.9 507L481.3 508.6L481.8 508.9L482.2 509.4L482.7 506.4L483.1 506.7L483.6 503.4L484 505L484.4 503.2L484.9 502.6L485.4 500.8L485.8 500.6L486.2 502.3L486.7 501.5L487.2 502.6L487.6 502.6L488.1 501L488.5 500.7L488.9 501.1L489.4 501.8L489.9 501.7L490.3 501.2L490.8 502.1L491.2 502.8L491.7 500L492.1 499L492.6 499.9L493 498.4L493.4 496.8L493.9 498.3L494.4 500L494.8 500.9L495.2 501.1L495.7 502.6L496.2 504.4L496.6 504.3L497.1 505.8L497.5 506.8L497.9 508.1L498.4 507.1L498.9 508L499.3 509.7L499.8 510L500.2 509.4L500.7 508.9L501.1 507.6L501.6 505.1L502 503.3L502.4 503L502.9 502.7L503.4 502.9L503.8 501.3L504.2 500.4L504.7 502L505.2 500.2L505.6 501L506.1 499.7L506.5 499.7L506.9 500.9L507.4 499.8L507.9 498.8L508.3 498.7L508.8 499.1L509.2 500.1L509.7 497.5L510.1 498.5L510.6 498.4L511 497.1L511.4 497L511.9 495.3L512.4 493.1L512.8 494L513.2 492.8L513.7 492.3L514.2 491L514.6 488.7L515 485.9L515.5 485.8L516 486.2L516.4 488.3L516.9 488.5L517.3 486.4L517.8 487L518.2 488.3L518.7 487.5L519.1 488.8L519.5 486.3L520 486.3L520.5 485.4L520.9 481.9L521.4 484.1L521.8 483.6L522.2 480.1L522.7 480L523.2 479.5L523.6 480.2L524 478.6L524.5 477.6L525 476.6L525.4 475.9L525.9 476.3L526.3 476.3L526.8 478.1L527.2 475.7L527.7 478.8L528.1 478.2L528.5 479.3L529 479.3L529.5 479.2L529.9 481.5L530.4 480.7L530.8 483.5L531.2 484.2L531.7 485.6L532.2 487.9L532.6 489.6L533 490.2L533.5 490.7L534 490L534.4 490.8L534.9 490.6L535.3 490.6L535.8 491.7L536.2 493.3L536.7 493.5L537.1 494.1L537.5 492.4L538 494.9L538.5 496.7L538.9 498.3L539.4 499.1L539.8 501.8L540.2 500.3L540.7 498.6L541.2 497.9L541.6 495.8L542 494.7L542.5 490.6L543 492.3L543.4 492.5L543.9 495.6L544.3 495.6L544.8 495.6L545.2 497.7L545.7 497.5L546.1 497.9L546.5 497.3L547 495L547.5 495L547.9 493.7L548.4 494.5L548.8 493.8L549.2 493.5L549.7 493.1L550.2 494.1L550.6 496L551 494.5L551.5 496L552 498.1L552.4 498.3L552.9 498.1L553.3 498.4L553.8 497.8L554.2 500L554.7 497.6L555.1 498.6L555.5 499L556 498.9L556.5 500.4L556.9 501.1L557.4 500.3L557.8 500.3L558.2 501.1L558.7 502.2L559.2 502L559.6 500.8L560 502.8L560.5 505.2L561 508.8L561.4 512.3L561.9 513.9L562.3 517.1L562.8 516.7L563.2 516.8L563.7 517.9L564.1 517.2L564.5 517.1L565 516.4L565.5 517.4L565.9 517.6L566.4 518.7L566.8 518.9L567.2 517.5L567.7 517.8L568.2 519L568.6 516.2L569 516.4L569.5 516.8L570 517.1L570.4 517.6L570.9 516L571.3 516.7L571.8 518.2L572.2 519L572.7 517.6L573.1 515.2L573.5 511.7L574 511L574.5 507.5L574.9 509.1L575.4 507.7L575.8 510.3L576.2 511.7L576.7 511.3L577.2 512L577.6 514.1L578 515.5L578.5 517.7L579 518L579.4 524.2L579.9 527.8L580.3 535.6L580.8 541.3L581.2 545.8L581.7 551.2L582.1 556.1L582.5 554.8L583 553.9L583.5 551.6L583.9 550.5L584.4 550.4L584.8 550.4L585.2 550.4L585.7 553L586.2 552.9L586.6 553.7L587 551.4L587.5 553L588 555.9L588.4 555.5L588.9 561.3L589.3 564.6L589.8 566.3L590.2 567.2L590.7 568.2L591.1 569.9L591.5 572.2L592 573.7L592.5 574.5L592.9 575.4L593.4 576.1L593.8 572.9L594.2 573L594.7 575.1L595.2 572.8L595.6 573.6L596 572.8L596.5 570.8L597 571.7L597.4 572.9L597.9 571.9L598.3 573.1L598.8 573L599.2 571.7L599.7 571.9L600.1 572.5L600.5 572.6L601 572.2L601.5 573.8L601.9 572.8L602.4 574.1L602.8 573.5L603.2 574.5L603.7 574.9L604.2 577.7L604.6 578L605 577.1L605.5 575.6L606 576.5L606.4 573.7L606.9 574.5L607.3 571.2L607.8 571.2L608.2 573.6L608.7 571.2L609.1 572.5L609.5 573.5L610 573.9L610.5 576.9L610.9 582.2L611.4 586.2L611.8 588.9L612.2 589.8L612.7 589.7L613.2 593.6L613.6 595L614 598.1L614.5 601.5L615 606.8L615.4 607.8L615.9 606.4L616.3 607.7L616.8 608.6L617.2 609.5L617.7 611.2L618.1 610.7L618.5 608L619 608.8L619.5 609.5L619.9 610.8L620.4 610.6L620.8 612.6L621.2 612.1L621.7 615L622.2 615.6L622.6 615.1L623 613.6L623.5 616L624 617.1L624.4 615.3L624.9 614.2L625.3 613L625.8 612.2L626.2 612.3L626.7 610.5L627.1 610.9L627.5 610.2L628 606.1L628.5 608.3L628.9 610.8L629.4 611.7L629.8 613.3L630.2 616.8L630.7 618.4L631.2 620.6L631.6 622.9L632 624.4L632.5 626.7L633 626.7L633.4 630.2L633.9 630.5L634.3 630.3L634.8 631.5L635.2 633L635.7 635.3L636.1 638.5L636.5 638.9L637 639.9L637.5 637.4L637.9 634.8L638.4 632.1L638.8 631.1L639.2 628.9L639.7 628.4L640.2 625.7L640.6 623L641 620.3L641.5 619.7L642 618L642.4 622.8L642.9 626.3L643.3 631.9L643.8 634L644.2 634.3L644.7 632.5L645.1 629.8L645.5 632L646 631.9L646.5 628.6L646.9 632.2L647.4 634.1L647.8 635.2L648.2 636.3L648.7 637.7L649.2 639.2L649.6 640.1L650 640.1L650.5 642.2L651 643.6L651.4 642.3L651.9 644.3L652.3 643.3L652.8 646.9L653.2 646.7L653.7 646.3L654.1 648.5L654.5 650.8L655 651L655.5 653L655.9 654.4L656.4 653.2L656.8 652.7L657.2 651L657.7 651.9L658.2 651.2L658.6 652.7L659 652L659.5 655.3L660 653.1L660.4 651.4L660.9 650.7L661.3 650.1L661.8 650.4L662.2 650.2L662.6 650.4L663.1 651.9L663.6 651.6L664 652.2L664.5 649.7L664.9 649.3L665.4 649.2L665.8 649.7L666.2 649.3L666.7 650.3L667.1 647.9L667.6 649.9L668.1 653.8L668.5 654.3L669 655.1L669.4 655.9L669.9 653.9L670.3 652.8L670.8 653.7L671.2 653.2L671.6 650.9L672.1 652.6L672.6 651.2L673 651.2L673.5 650.7L673.9 649.3L674.4 650.2L674.8 652.3L675.2 649L675.7 651.6L676.1 651.6L676.6 647.6L677.1 644.9L677.5 640.9L678 639.8L678.4 638.6L678.9 637.4L679.3 637.8L679.8 637.8L680.2 635.9L680.6 635.8L681.1 635.7L681.6 635.9L682 635.9L682.5 637.3L682.9 636.8L683.4 636.3L683.8 637.7L684.2 637.8L684.7 638.9L685.1 637.8L685.6 638.6L686.1 638.1L686.5 638L687 637.8L687.4 636.3L687.9 636L688.3 634.9L688.8 633.9L689.2 636.1L689.6 636.2L690.1 636.8L690.6 636.3L691 637.5L691.5 637.7L691.9 639.5L692.4 639.5L692.8 641.5L693.2 639.3L693.7 640.6L694.1 644.5L694.6 643.5L695.1 644.4L695.5 643.5L696 644.5L696.4 644.4L696.9 645L697.3 647.5L697.8 650.8L698.2 651.4L698.6 651.9L699.1 652.3L699.6 653.7L700 654L700.5 655.7L700.9 655.1L701.4 653.6L701.8 653.8L702.2 654L702.7 654L703.1 653.1L703.6 652.8L704.1 655L704.5 653.7L705 654.9L705.4 653.4L705.9 653.3L706.3 654.5L706.8 653.6L707.2 654.1L707.6 655.3L708.1 654.4L708.6 654L709 655.9L709.5 654.9L709.9 654.3L710.4 654.6L710.8 654L711.2 652.9L711.7 652.5L712.1 652.8L712.6 653.7L713.1 655L713.5 656.7L714 658.7L714.4 658.8L714.9 661L715.3 660.2L715.8 660.2L716.2 663.1L716.6 665.7L717.1 665.2L717.6 666.5L718 667.2L718.5 666.9L718.9 667.5L719.4 667.3L719.8 668L720.2 670.2L720.7 671.5L721.1 671.6L721.6 673.6L722.1 674.7L722.5 675.4L723 675.5L723.4 676.4L723.9 675.4L724.3 674.4L724.8 675.9L725.2 675.1L725.6 677.4L726.1 674.8L726.6 675.5L727 675.9L727.5 674.9L727.9 675.1L728.4 674.3L728.8 674L729.2 673.9L729.7 674L730.1 673.1L730.6 672.6L731.1 669L731.5 669.3L732 667.9L732.4 668.1L732.9 668.7L733.3 665.5L733.8 667L734.2 669L734.6 670L735.1 670.3L735.6 668.6L736 667.6L736.5 668L736.9 667L737.4 666.7L737.8 664L738.2 663.7L738.7 663.5L739.1 660.9L739.6 660.8L740.1 661.3L740.5 659.7L741 657.5L741.4 658L741.9 657.1L742.3 660.2L742.8 656.4L743.2 657.5L743.6 657.1L744.1 655.1L744.6 654.3L745 653.8L745.5 653.1L745.9 655.2L746.4 655.1L746.8 655.3L747.2 656.4L747.7 657.4L748.1 657.9L748.6 655.3L749.1 657.1L749.5 657.8L750 655.9L750.4 656.4L750.9 657.7L751.3 659.2L751.8 661.3L752.2 664.8L752.6 667.2L753.1 668.4L753.6 669L754 669.4L754.5 670.9L754.9 673.7L755.4 673.2L755.8 672.2L756.2 674.3L756.7 672L757.1 673L757.6 670.9L758.1 670.9L758.5 672.1L759 669L759.4 669.8L759.9 670.6L760.3 669.6L760.8 667.7L761.2 667.4L761.6 667.2L762.1 667.1L762.6 667L763 666.6L763.5 664.5L763.9 664.5L764.4 664.3L764.8 664L765.2 666.6L765.7 666L766.1 667.5L766.6 667.7L767.1 668.8L767.5 668.2L768 671.4L768.4 671.6L768.9 672.4L769.3 674L769.8 675.4L770.2 676L770.6 677.5L771.1 677.3L771.6 679.2L772 681.5L772.5 682.3L772.9 683L773.4 682.6L773.8 682.1L774.2 682.6L774.7 682.7L775.1 683.6L775.6 682.7L776.1 682.7L776.5 684.3L777 683.5L777.4 682.6L777.9 682.4L778.3 686L778.8 685.9L779.2 685.4L779.6 688.4L780.1 686.9L780.6 689.1L781 691.4L781.5 693L781.9 695.5L782.4 695.8L782.8 695.3L783.2 696.7L783.7 696.7L784.1 699.4L784.6 699.7L785.1 700.4L785.5 703.3L786 704.5L786.4 705L786.9 699.8L787.3 695.1L787.8 693.8L788.2 694.9L788.6 695.4L789.1 693.2L789.6 693.5L790 693.1L790.5 692.8L790.9 693.9L791.4 692.8L791.8 693.7L792.2 693L792.7 693.6L793.1 691.8L793.6 692.5L794.1 689.9L794.5 691.6L795 690.8L795.4 692.2L795.9 691.9L796.3 690.5L796.8 690.2L797.2 690.6L797.6 692.1L798.1 692.1L798.6 691.8L799 694.5L799.5 694.2L799.9 695.6L800.4 694.1L800.8 693.7L801.2 694.4L801.7 695.9L802.1 695L802.6 695L803.1 694.1L803.5 695L804 692.5L804.4 696.1L804.9 695.9L805.3 695.9L805.8 696.6L806.2 697.3L806.6 699.4L807.1 700.2L807.6 700.1L808 700.4L808.5 701.3L808.9 699.9L809.4 699.2L809.8 699.8L810.2 701.8L810.7 700.2L811.1 701.3L811.6 700.7L812.1 700.4L812.5 699.9L813 701L813.4 699.4L813.9 700.8L814.3 699.1L814.8 697.9L815.2 697.1L815.6 699.3L816.1 698.3L816.6 700.8L817 701.5L817.5 700.2L817.9 700.9L818.4 699.3L818.8 700.1L819.2 699.6L819.7 701.7L820.1 698.6L820.6 698.7L821.1 697.8L821.5 698.7L822 697.5L822.4 700.3L822.9 700.1L823.3 698.6L823.8 699.5L824.2 699.9L824.6 699.8L825.1 701.8L825.6 699.1L826 699.6L826.5 698.6L826.9 700.7L827.4 696.8L827.8 698.1L828.2 696.5L828.7 695.9L829.1 695.1L829.6 693.7L830.1 690.5L830.5 689L831 686.3L831.4 684.7L831.9 684.4L832.3 685.5L832.8 684.8L833.2 685.1L833.6 683.5L834.1 683.3L834.6 682.8L835 684L835.5 684.3L835.9 685.3L836.4 688.7L836.8 687.9L837.2 687.1L837.7 687.1L838.1 687.5L838.6 686.7L839.1 687.1L839.5 687.2L840 685.6L840.4 682.9L840.9 684.5L841.3 685.1L841.8 683.5L842.2 682.7L842.6 684.3L843.1 683.7L843.6 684.6L844 684.4L844.5 684.9L844.9 685.3L845.4 684.1L845.8 683.1L846.2 684.3L846.7 682.7L847.1 681.5L847.6 681.6L848.1 681.4L848.5 681.1L849 682L849.4 682L849.9 684.4L850.3 684.2L850.8 685.4L851.2 684L851.6 683.9L852.1 682.1L852.6 683.4L853 685L853.5 685L853.9 682.7L854.4 683.6L854.8 683.3L855.2 685L855.7 683.2L856.1 685.3L856.6 686.9L857.1 691L857.5 695.3L858 693.9L858.4 695.1L858.9 696.3L859.3 696.4L859.8 695.6L860.2 694.9L860.6 698.2L861.1 695.7L861.6 697.6L862 697.1L862.5 699.4L862.9 699.4L863.4 700.9L863.8 699.7L864.2 700.1L864.7 701.2L865.1 703L865.6 703.8L866.1 704.2L866.5 705.7L867 705.7L867.4 706.5L867.9 705.8L868.3 706.4L868.8 705.9L869.2 705.4L869.6 705.2L870.1 703.8L870.6 704.4L871 705.4L871.5 704L871.9 703.1L872.4 704L872.8 702.8L873.2 703L873.7 703L874.1 701.8L874.6 699.4L875.1 699.6L875.5 700.3L876 700.3L876.4 701.5L876.9 701.8L877.3 701.9L877.8 700L878.2 700.2L878.6 699.5L879.1 697.6L879.6 696.6L880 695.3L880.5 693.8L880.9 693.1L881.4 693.4L881.8 694.7L882.2 693.6L882.7 693.3L883.1 691.7L883.6 689.8L884.1 689.5L884.5 690.7L885 691.5L885.4 692.8L885.9 690.8L886.3 693.5L886.8 692.7L887.2 694.4L887.6 693.3L888.1 693.8L888.6 696.4L889 695.1L889.5 696.5L889.9 695.1L890.4 698.3L890.8 698.3L891.2 697.3L891.7 694L892.1 693.8L892.6 694.4L893.1 693L893.5 693.5L894 693.7L894.4 691.7L894.9 693.1L895.3 689.9L895.8 689.5L896.2 689.7L896.6 688.7L897.1 689.5L897.6 689.9L898 687.2L898.5 687.4L898.9 685.7L899.4 686.2L899.8 686.1L900.2 687.4L900.7 686L901.1 688L901.6 686.2L902.1 689.1L902.5 687.5L903 689.1L903.4 689.6L903.9 688.2L904.3 686.7L904.8 687.9L905.2 685.7L905.6 686.5L906.1 686.5L906.6 687.3L907 685.1L907.5 686L907.9 683.9L908.4 683.4L908.8 682.4L909.2 682.2L909.7 679.6L910.1 679.6L910.6 676.9L911.1 676.9L911.5 673.8L912 672.5L912.4 671.2L912.9 671.7L913.3 669.9L913.8 670.2L914.2 670L914.6 669.8L915.1 668.8L915.6 668.8L916 667.3L916.5 667.4L916.9 664.8L917.4 666.5L917.8 663.1L918.2 661.5L918.7 659.9L919.1 663.6L919.6 667.3L920.1 672.4L920.5 675.3L921 675.3L921.4 675L921.9 674.4L922.3 674.2L922.8 673.2L923.2 671.4L923.6 671.4L924.1 672.7L924.6 672.7L925 674.3L925.5 674.7L925.9 675.2L926.4 674.3L926.8 674.3L927.2 675.2L927.7 672.1L928.1 673.2L928.6 670L929.1 671.6L929.5 676.4L930 678.7L930.4 680.5L930.9 678.3L931.3 676.9L931.8 674.2L932.2 674.3L932.6 671.8L933.1 671.1L933.6 669.6L934 671.6L934.5 670.7L934.9 671.4L935.4 670L935.8 670.4L936.2 672.4L936.7 668.9L937.1 668.9L937.6 669L938.1 666.4L938.5 664.6L939 663.7L939.4 662.3L939.9 662L940.3 663.6L940.8 663.1L941.2 663L941.6 660.1L942.1 663.3L942.6 665.7L943 666.5L943.5 667.4L943.9 668.9L944.4 672.8L944.8 675.4L945.2 675.4L945.7 673.9L946.1 673.5L946.6 671.7L947.1 670.5L947.5 669.1L948 668L948.4 668.4L948.9 669.5L949.3 669.5L949.8 671L950.2 671.3L950.6 672.8L951.1 671.9L951.6 673.7L952 671.3L952.5 672L952.9 670.9L953.4 670.3L953.8 671.4L954.2 671.3L954.7 669.8L955.1 669.1L955.6 670.2L956.1 669.2L956.5 670.3L957 669.7L957.4 669.4L957.9 668.7L958.3 667.4L958.8 668.4L959.2 666.9L959.6 668.8L960.1 668.4L960.6 669.4L961 670.1L961.5 670.4L961.9 670.1L962.4 671.5L962.8 670.5L963.2 672L963.7 672.5L964.1 672.1L964.6 673.3L965.1 670.1L965.5 671.8L966 669.5L966.4 671.5L966.9 669.6L967.3 670.9L967.8 669.5L968.2 668.7L968.6 667.4L969.1 664.8L969.6 667.4L970 665L970.5 665.8L970.9 666.7L971.4 665.1L971.8 665.8L972.2 668L972.7 669L973.1 671L973.6 668.4L974.1 668.4L974.5 670.1L975 669.3L975.4 668.1L975.9 667.7L976.3 667.8L976.8 668.4L977.2 667.7L977.6 667.2L978.1 668.1L978.6 667.5L979 667.9L979.5 668.3L979.9 667.1L980.4 669.1L980.8 664.3L981.2 663.5L981.7 664.4L982.1 663.5L982.6 661.9L983.1 659.6L983.5 657.9L984 657.5L984.4 656.8L984.9 656.1L985.3 656L985.8 656.8L986.2 657L986.6 654.1L987.1 653.3L987.6 651.6L988 651.4L988.5 651.5L988.9 650.4L989.4 648.6L989.8 647.2L990.2 647.5L990.7 647.4L991.1 645.1L991.6 645.9L992.1 646L992.5 644.5L993 644.3L993.4 644.2L993.9 646.2L994.3 645.4L994.8 644.7L995.2 644.2L995.6 644.4L996.1 643.2L996.6 642.9L997 642.7L997.5 643.2L997.9 644.1L998.4 646L998.8 645.7L999.2 645.1L999.7 646.8L1000.1 647.4L1000.6 650.2L1001.1 651L1001.5 652.6L1002 651.4L1002.4 652.8L1002.9 652.9L1003.3 654.3L1003.8 656.4L1004.2 656.4L1004.6 658L1005.1 659.6L1005.6 657.7L1006 656.6L1006.5 657.4L1006.9 655L1007.4 655.7L1007.8 653.1L1008.2 652L1008.7 652.7L1009.1 651.4L1009.6 651.9L1010.1 650.5L1010.5 651.1L1011 649.9L1011.4 651.1L1011.9 653.7L1012.3 655.3L1012.8 654.3L1013.2 656L1013.6 656.8L1014.1 656.5L1014.6 657.7L1015 659L1015.5 660.7L1015.9 661.7L1016.4 662.1L1016.8 661.6L1017.2 661.2L1017.7 660.1L1018.1 662.8L1018.6 662.6L1019.1 662L1019.5 661.1L1020 660.2L1020.4 660.5L1020.9 661L1021.3 658.2L1021.8 660L1022.2 658.5L1022.6 660L1023.1 659.3L1023.6 658.6L1024 660.6L1024.5 660.5L1024.9 661L1025.3 660.4L1025.8 661L1026.2 662.2L1026.7 664.2L1027.2 666.3L1027.6 667L1028.1 668.3L1028.5 669.6L1029 670L1029.4 672L1029.8 671.4L1030.3 672.6L1030.8 674.3L1031.2 675.8L1031.7 677.5L1032.1 677.6L1032.6 678.2L1033 680.1L1033.5 679.8L1033.9 680.7L1034.3 679.3L1034.8 677.5L1035.2 678.5L1035.7 679.1L1036.2 678.2L1036.6 679.9L1037.1 681.5L1037.5 682.5L1038 684.9L1038.4 689.5L1038.8 691.5L1039.3 692.8L1039.8 694.8L1040.2 696L1040.7 697.9L1041.1 697.4L1041.6 696.5L1042 696L1042.5 694.7L1042.9 692.2L1043.3 693.1L1043.8 693.5L1044.2 694.5L1044.7 694.6L1045.2 693.7L1045.6 695.1L1046.1 695.5L1046.5 696.2L1047 695L1047.4 694.2L1047.8 694.8L1048.3 692.9L1048.8 694.8L1049.2 693.7L1049.7 694.6L1050.1 693.8L1050.6 693L1051 690.1L1051.5 689.3L1051.9 687.3L1052.3 686.8L1052.8 686.3L1053.2 686.1L1053.7 685.6L1054.2 686.6L1054.6 687.3L1055.1 687.7L1055.5 687.1L1056 684.1L1056.4 683.5L1056.8 682.3L1057.3 679.3L1057.8 682.5L1057.8 683.8"/>
    </g>

  <!-- axes -->
  <path class="axis" d="M148.5 78V745M148 737H1058.5M239.6 737v8M330.7 737v8M421.8 737v8M512.9 737v8M604 737v8M695.1 737v8M786.2 737v8M877.3 737v8M968.4 737v8"/>

  <!-- plaza accord line -->
  <line x1="577.5" y1="86" x2="577.5" y2="737" stroke="#000" stroke-width="4.6" stroke-dasharray="18 13.5"/>

  <!-- y labels -->
  <text class="ylab" x="119" y="86.6">2.50</text>
  <text class="ylab" x="119" y="251.2">2.00</text>
  <text class="ylab" x="119" y="415.9">1.50</text>
  <text class="ylab" x="119" y="580.6">1.00</text>
  <text class="ylab" x="119" y="745.3">0.50</text>

  <!-- x labels -->
  <g id="xl">
    <text class="xlab" transform="translate(153.5,768) rotate(-45)">1981</text>
    <text class="xlab" transform="translate(244.6,768) rotate(-45)">1982</text>
    <text class="xlab" transform="translate(335.7,768) rotate(-45)">1983</text>
    <text class="xlab" transform="translate(426.8,768) rotate(-45)">1984</text>
    <text class="xlab" transform="translate(517.9,768) rotate(-45)">1985</text>
    <text class="xlab" transform="translate(609.0,768) rotate(-45)">1986</text>
    <text class="xlab" transform="translate(700.1,768) rotate(-45)">1987</text>
    <text class="xlab" transform="translate(791.2,768) rotate(-45)">1988</text>
    <text class="xlab" transform="translate(882.3,768) rotate(-45)">1989</text>
    <text class="xlab" transform="translate(973.4,768) rotate(-45)">1990</text>
  </g>

  <!-- axis title -->
  <text class="axt" transform="translate(49,408.5) rotate(-90)">Indexed Rate</text>

  <!-- annotation -->
  <text class="ann1" x="610" y="162">Plaza Accord</text>
  <text class="ann2" x="610" y="193">September 22, 1985</text>

<!-- logo -->
  <g transform="translate(1010,115) scale(0.09146)">
    <path fill="#8a8a8a" d="M400 165C340 152 250 165 180 220C110 275 78 340 88 420C100 520 170 610 280 690C390 765 520 812 620 815C720 815 800 750 830 650C850 560 820 460 770 400C800 480 808 570 775 640C740 705 680 745 600 750C480 752 350 680 250 580C170 490 135 400 150 330C165 255 230 190 320 170C350 163 380 163 400 165Z"/>
    <path fill="#b9b9b9" d="M415 187C370 178 310 185 260 215C200 255 170 320 178 395C190 480 250 560 340 640C430 700 540 728 640 722C720 715 770 660 788 580C798 520 790 460 768 420C772 480 770 550 742 600C710 645 650 668 580 662C480 650 380 590 300 500C240 430 215 360 232 300C250 240 300 200 360 190C380 186 400 186 415 187Z"/>
    <path fill="#d2d2d2" d="M260 400L332 322L400 400V560C350 535 300 490 260 430Z"/>
    <path fill="#bababa" d="M425 295L492 222L560 295V612C515 610 468 598 425 580Z"/>
    <path fill="#acacac" d="M592 180L663 102L735 180V590C700 615 640 625 592 622Z"/>
  </g>
  <text x="1096.2" y="157.6" textLength="123" lengthAdjust="spacingAndGlyphs" style="font-size:19.4px;fill:#6f6f6f">PALISADE</text>
  <text transform="translate(1097,172.9) scale(1.22,1)" style="font-size:11px;fill:#c4c4c4;letter-spacing:3px">GLOBAL</text>

  <!-- legend -->
  <g stroke-width="4.4" stroke-linecap="round">
    <line x1="1104" y1="520.6" x2="1140" y2="520.6" stroke="#a6a6a6"/>
    <line x1="1104" y1="561.1" x2="1140" y2="561.1" stroke="#21759b"/>
    <line x1="1104" y1="600.8" x2="1140" y2="600.8" stroke="#264478"/>
    <line x1="1104" y1="641.5" x2="1140" y2="641.5" stroke="#7030a0"/>
  </g>
  <text class="leg" x="1150" y="529">GBP</text>
  <text class="leg" x="1150" y="570">FRF</text>
  <text class="leg" x="1150" y="610">DEM</text>
  <text class="leg" x="1150" y="651">JPY</text>

  <!-- source -->
  <text class="src" x="651" y="895">Source: palisadeglobal.com | palisade-research.com, Bloomberg</text>
</svg>
</body>
</html>
